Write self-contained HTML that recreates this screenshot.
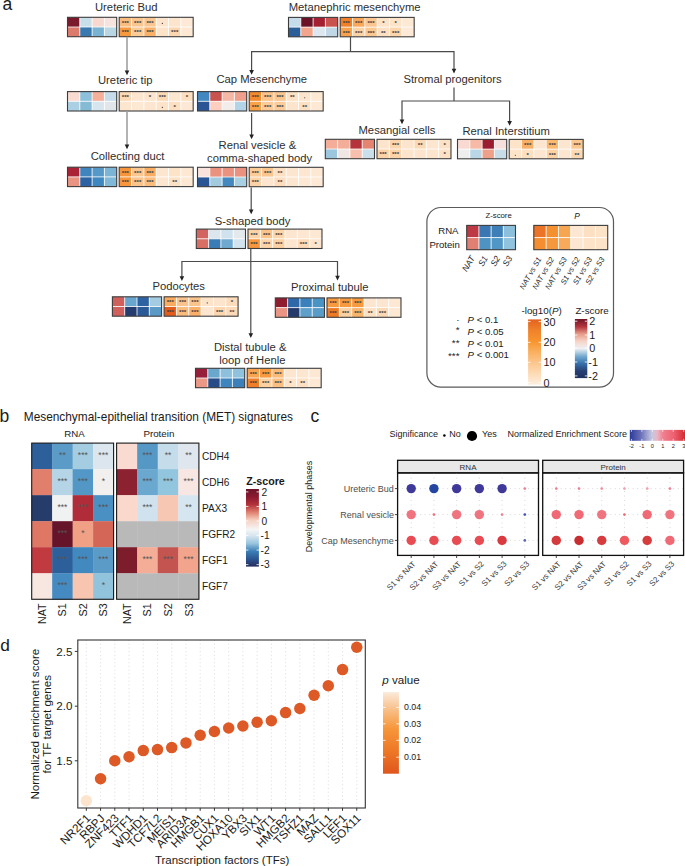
<!DOCTYPE html>
<html><head><meta charset="utf-8"><style>
html,body{margin:0;padding:0;background:#fff;width:685px;height:866px;overflow:hidden;}
svg{display:block;}
text{font-family:"Liberation Sans", sans-serif;}
</style></head><body>
<svg width="685" height="866" viewBox="0 0 685 866" font-family='"Liberation Sans", sans-serif'>
<rect width="685" height="866" fill="#fff"/>
<text x="2.5" y="9.8" font-size="17.5" text-anchor="start" fill="#1a1a1a">a</text>
<rect x="67.50" y="17.30" width="12.30" height="9.70" fill="#7b1a2c"/>
<rect x="79.80" y="17.30" width="12.30" height="9.70" fill="#c8dfea"/>
<rect x="92.10" y="17.30" width="12.30" height="9.70" fill="#f8d9d0"/>
<rect x="104.40" y="17.30" width="12.30" height="9.70" fill="#f6e3de"/>
<rect x="67.50" y="27.00" width="12.30" height="9.70" fill="#dc7b6c"/>
<rect x="79.80" y="27.00" width="12.30" height="9.70" fill="#3a78b0"/>
<rect x="92.10" y="27.00" width="12.30" height="9.70" fill="#7ab3d2"/>
<rect x="104.40" y="27.00" width="12.30" height="9.70" fill="#b9d6e5"/>
<rect x="119.20" y="17.30" width="12.33" height="9.70" fill="#fbbd7f"/>
<rect x="131.53" y="17.30" width="12.33" height="9.70" fill="#fbc58f"/>
<rect x="143.86" y="17.30" width="12.33" height="9.70" fill="#fbc58f"/>
<rect x="156.19" y="17.30" width="12.33" height="9.70" fill="#fde5cd"/>
<rect x="168.52" y="17.30" width="12.33" height="9.70" fill="#fde5cd"/>
<rect x="180.85" y="17.30" width="12.33" height="9.70" fill="#fde9d6"/>
<rect x="119.20" y="27.00" width="12.33" height="9.70" fill="#f79a3f"/>
<rect x="131.53" y="27.00" width="12.33" height="9.70" fill="#fbcb98"/>
<rect x="143.86" y="27.00" width="12.33" height="9.70" fill="#f9b068"/>
<rect x="156.19" y="27.00" width="12.33" height="9.70" fill="#fde3c8"/>
<rect x="168.52" y="27.00" width="12.33" height="9.70" fill="#fcd6b0"/>
<rect x="180.85" y="27.00" width="12.33" height="9.70" fill="#fde8d4"/>
<line x1="79.8" y1="17.3" x2="79.8" y2="36.7" stroke="#fff" stroke-width="0.8"/>
<line x1="92.1" y1="17.3" x2="92.1" y2="36.7" stroke="#fff" stroke-width="0.8"/>
<line x1="104.4" y1="17.3" x2="104.4" y2="36.7" stroke="#fff" stroke-width="0.8"/>
<line x1="131.53" y1="17.3" x2="131.53" y2="36.7" stroke="#fff" stroke-width="0.8"/>
<line x1="143.86" y1="17.3" x2="143.86" y2="36.7" stroke="#fff" stroke-width="0.8"/>
<line x1="156.19" y1="17.3" x2="156.19" y2="36.7" stroke="#fff" stroke-width="0.8"/>
<line x1="168.52" y1="17.3" x2="168.52" y2="36.7" stroke="#fff" stroke-width="0.8"/>
<line x1="180.85" y1="17.3" x2="180.85" y2="36.7" stroke="#fff" stroke-width="0.8"/>
<line x1="67.5" y1="27.0" x2="116.7" y2="27.0" stroke="#fff" stroke-width="0.8"/>
<line x1="119.2" y1="27.0" x2="193.18" y2="27.0" stroke="#fff" stroke-width="0.8"/>
<text x="125.37" y="24.75" font-size="6.2" text-anchor="middle" fill="#3a3a3a" font-weight="bold">***</text>
<text x="137.69" y="24.75" font-size="6.2" text-anchor="middle" fill="#3a3a3a" font-weight="bold">***</text>
<text x="150.03" y="24.75" font-size="6.2" text-anchor="middle" fill="#3a3a3a" font-weight="bold">***</text>
<circle cx="162.35" cy="23.45" r="0.6" fill="#3a3a3a"/>
<text x="125.37" y="34.45" font-size="6.2" text-anchor="middle" fill="#3a3a3a" font-weight="bold">***</text>
<text x="137.69" y="34.45" font-size="6.2" text-anchor="middle" fill="#3a3a3a" font-weight="bold">***</text>
<text x="150.03" y="34.45" font-size="6.2" text-anchor="middle" fill="#3a3a3a" font-weight="bold">***</text>
<text x="174.69" y="34.45" font-size="6.2" text-anchor="middle" fill="#3a3a3a" font-weight="bold">***</text>
<rect x="67.50" y="17.30" width="49.20" height="19.40" fill="none" stroke="#3c3c3c" stroke-width="1.1"/>
<rect x="119.20" y="17.30" width="73.98" height="19.40" fill="none" stroke="#3c3c3c" stroke-width="1.1"/>
<rect x="288.50" y="17.40" width="12.30" height="9.70" fill="#c5dceb"/>
<rect x="300.80" y="17.40" width="12.30" height="9.70" fill="#6a1128"/>
<rect x="313.10" y="17.40" width="12.30" height="9.70" fill="#a51f33"/>
<rect x="325.40" y="17.40" width="12.30" height="9.70" fill="#c8534f"/>
<rect x="288.50" y="27.10" width="12.30" height="9.70" fill="#2b5f9a"/>
<rect x="300.80" y="27.10" width="12.30" height="9.70" fill="#f2a48c"/>
<rect x="313.10" y="27.10" width="12.30" height="9.70" fill="#dde7ef"/>
<rect x="325.40" y="27.10" width="12.30" height="9.70" fill="#c0d8e6"/>
<rect x="340.20" y="17.40" width="12.33" height="9.70" fill="#f07f2a"/>
<rect x="352.53" y="17.40" width="12.33" height="9.70" fill="#faa75a"/>
<rect x="364.86" y="17.40" width="12.33" height="9.70" fill="#fbc591"/>
<rect x="377.19" y="17.40" width="12.33" height="9.70" fill="#fde3c8"/>
<rect x="389.52" y="17.40" width="12.33" height="9.70" fill="#fde3c8"/>
<rect x="401.85" y="17.40" width="12.33" height="9.70" fill="#fde9d4"/>
<rect x="340.20" y="27.10" width="12.33" height="9.70" fill="#f9a24e"/>
<rect x="352.53" y="27.10" width="12.33" height="9.70" fill="#fcd3a6"/>
<rect x="364.86" y="27.10" width="12.33" height="9.70" fill="#fcc892"/>
<rect x="377.19" y="27.10" width="12.33" height="9.70" fill="#fde0c2"/>
<rect x="389.52" y="27.10" width="12.33" height="9.70" fill="#fcd5ab"/>
<rect x="401.85" y="27.10" width="12.33" height="9.70" fill="#fde9d6"/>
<line x1="300.8" y1="17.4" x2="300.8" y2="36.8" stroke="#fff" stroke-width="0.8"/>
<line x1="313.1" y1="17.4" x2="313.1" y2="36.8" stroke="#fff" stroke-width="0.8"/>
<line x1="325.4" y1="17.4" x2="325.4" y2="36.8" stroke="#fff" stroke-width="0.8"/>
<line x1="352.53" y1="17.4" x2="352.53" y2="36.8" stroke="#fff" stroke-width="0.8"/>
<line x1="364.86" y1="17.4" x2="364.86" y2="36.8" stroke="#fff" stroke-width="0.8"/>
<line x1="377.19" y1="17.4" x2="377.19" y2="36.8" stroke="#fff" stroke-width="0.8"/>
<line x1="389.52" y1="17.4" x2="389.52" y2="36.8" stroke="#fff" stroke-width="0.8"/>
<line x1="401.84999999999997" y1="17.4" x2="401.84999999999997" y2="36.8" stroke="#fff" stroke-width="0.8"/>
<line x1="288.5" y1="27.099999999999998" x2="337.7" y2="27.099999999999998" stroke="#fff" stroke-width="0.8"/>
<line x1="340.2" y1="27.099999999999998" x2="414.18" y2="27.099999999999998" stroke="#fff" stroke-width="0.8"/>
<text x="346.37" y="24.85" font-size="6.2" text-anchor="middle" fill="#3a3a3a" font-weight="bold">***</text>
<text x="358.69" y="24.85" font-size="6.2" text-anchor="middle" fill="#3a3a3a" font-weight="bold">***</text>
<text x="371.03" y="24.85" font-size="6.2" text-anchor="middle" fill="#3a3a3a" font-weight="bold">***</text>
<text x="383.36" y="24.85" font-size="6.2" text-anchor="middle" fill="#3a3a3a" font-weight="bold">*</text>
<text x="395.69" y="24.85" font-size="6.2" text-anchor="middle" fill="#3a3a3a" font-weight="bold">*</text>
<text x="346.37" y="34.55" font-size="6.2" text-anchor="middle" fill="#3a3a3a" font-weight="bold">***</text>
<text x="358.69" y="34.55" font-size="6.2" text-anchor="middle" fill="#3a3a3a" font-weight="bold">***</text>
<text x="371.03" y="34.55" font-size="6.2" text-anchor="middle" fill="#3a3a3a" font-weight="bold">***</text>
<text x="383.36" y="34.55" font-size="6.2" text-anchor="middle" fill="#3a3a3a" font-weight="bold">**</text>
<text x="395.69" y="34.55" font-size="6.2" text-anchor="middle" fill="#3a3a3a" font-weight="bold">***</text>
<rect x="288.50" y="17.40" width="49.20" height="19.40" fill="none" stroke="#3c3c3c" stroke-width="1.1"/>
<rect x="340.20" y="17.40" width="73.98" height="19.40" fill="none" stroke="#3c3c3c" stroke-width="1.1"/>
<rect x="67.50" y="91.60" width="12.30" height="9.70" fill="#f8dcd2"/>
<rect x="79.80" y="91.60" width="12.30" height="9.70" fill="#8dc0da"/>
<rect x="92.10" y="91.60" width="12.30" height="9.70" fill="#f5b09a"/>
<rect x="104.40" y="91.60" width="12.30" height="9.70" fill="#c6dcea"/>
<rect x="67.50" y="101.30" width="12.30" height="9.70" fill="#acd0e3"/>
<rect x="79.80" y="101.30" width="12.30" height="9.70" fill="#86bbd6"/>
<rect x="92.10" y="101.30" width="12.30" height="9.70" fill="#d6e5ee"/>
<rect x="104.40" y="101.30" width="12.30" height="9.70" fill="#e0e6ea"/>
<rect x="119.20" y="91.60" width="12.33" height="9.70" fill="#fcd9b5"/>
<rect x="131.53" y="91.60" width="12.33" height="9.70" fill="#fde6d0"/>
<rect x="143.86" y="91.60" width="12.33" height="9.70" fill="#fde4cc"/>
<rect x="156.19" y="91.60" width="12.33" height="9.70" fill="#fcd9b5"/>
<rect x="168.52" y="91.60" width="12.33" height="9.70" fill="#fde6d0"/>
<rect x="180.85" y="91.60" width="12.33" height="9.70" fill="#fcdfc0"/>
<rect x="119.20" y="101.30" width="12.33" height="9.70" fill="#fde6d0"/>
<rect x="131.53" y="101.30" width="12.33" height="9.70" fill="#fde8d4"/>
<rect x="143.86" y="101.30" width="12.33" height="9.70" fill="#fde6d0"/>
<rect x="156.19" y="101.30" width="12.33" height="9.70" fill="#fde3c8"/>
<rect x="168.52" y="101.30" width="12.33" height="9.70" fill="#fddfc2"/>
<rect x="180.85" y="101.30" width="12.33" height="9.70" fill="#fde8d6"/>
<line x1="79.8" y1="91.6" x2="79.8" y2="111.0" stroke="#fff" stroke-width="0.8"/>
<line x1="92.1" y1="91.6" x2="92.1" y2="111.0" stroke="#fff" stroke-width="0.8"/>
<line x1="104.4" y1="91.6" x2="104.4" y2="111.0" stroke="#fff" stroke-width="0.8"/>
<line x1="131.53" y1="91.6" x2="131.53" y2="111.0" stroke="#fff" stroke-width="0.8"/>
<line x1="143.86" y1="91.6" x2="143.86" y2="111.0" stroke="#fff" stroke-width="0.8"/>
<line x1="156.19" y1="91.6" x2="156.19" y2="111.0" stroke="#fff" stroke-width="0.8"/>
<line x1="168.52" y1="91.6" x2="168.52" y2="111.0" stroke="#fff" stroke-width="0.8"/>
<line x1="180.85" y1="91.6" x2="180.85" y2="111.0" stroke="#fff" stroke-width="0.8"/>
<line x1="67.5" y1="101.3" x2="116.7" y2="101.3" stroke="#fff" stroke-width="0.8"/>
<line x1="119.2" y1="101.3" x2="193.18" y2="101.3" stroke="#fff" stroke-width="0.8"/>
<text x="125.37" y="99.05" font-size="6.2" text-anchor="middle" fill="#3a3a3a" font-weight="bold">***</text>
<text x="150.03" y="99.05" font-size="6.2" text-anchor="middle" fill="#3a3a3a" font-weight="bold">*</text>
<text x="162.35" y="99.05" font-size="6.2" text-anchor="middle" fill="#3a3a3a" font-weight="bold">***</text>
<text x="187.01" y="99.05" font-size="6.2" text-anchor="middle" fill="#3a3a3a" font-weight="bold">*</text>
<circle cx="162.35" cy="107.45" r="0.6" fill="#3a3a3a"/>
<text x="174.69" y="108.75" font-size="6.2" text-anchor="middle" fill="#3a3a3a" font-weight="bold">*</text>
<rect x="67.50" y="91.60" width="49.20" height="19.40" fill="none" stroke="#3c3c3c" stroke-width="1.1"/>
<rect x="119.20" y="91.60" width="73.98" height="19.40" fill="none" stroke="#3c3c3c" stroke-width="1.1"/>
<rect x="197.50" y="91.60" width="12.30" height="9.70" fill="#4288c0"/>
<rect x="209.80" y="91.60" width="12.30" height="9.70" fill="#c8534f"/>
<rect x="222.10" y="91.60" width="12.30" height="9.70" fill="#f6b8a6"/>
<rect x="234.40" y="91.60" width="12.30" height="9.70" fill="#efa08c"/>
<rect x="197.50" y="101.30" width="12.30" height="9.70" fill="#2a5494"/>
<rect x="209.80" y="101.30" width="12.30" height="9.70" fill="#fccfc0"/>
<rect x="222.10" y="101.30" width="12.30" height="9.70" fill="#f2ecea"/>
<rect x="234.40" y="101.30" width="12.30" height="9.70" fill="#b3d3e6"/>
<rect x="249.20" y="91.60" width="12.33" height="9.70" fill="#f48a2e"/>
<rect x="261.53" y="91.60" width="12.33" height="9.70" fill="#fbc28a"/>
<rect x="273.86" y="91.60" width="12.33" height="9.70" fill="#fbc58f"/>
<rect x="286.19" y="91.60" width="12.33" height="9.70" fill="#fde1c5"/>
<rect x="298.52" y="91.60" width="12.33" height="9.70" fill="#fde4cc"/>
<rect x="310.85" y="91.60" width="12.33" height="9.70" fill="#fde8d4"/>
<rect x="249.20" y="101.30" width="12.33" height="9.70" fill="#f8a24a"/>
<rect x="261.53" y="101.30" width="12.33" height="9.70" fill="#fccb99"/>
<rect x="273.86" y="101.30" width="12.33" height="9.70" fill="#fccb99"/>
<rect x="286.19" y="101.30" width="12.33" height="9.70" fill="#fde5cd"/>
<rect x="298.52" y="101.30" width="12.33" height="9.70" fill="#fde0c2"/>
<rect x="310.85" y="101.30" width="12.33" height="9.70" fill="#fde8d4"/>
<line x1="209.8" y1="91.6" x2="209.8" y2="111.0" stroke="#fff" stroke-width="0.8"/>
<line x1="222.1" y1="91.6" x2="222.1" y2="111.0" stroke="#fff" stroke-width="0.8"/>
<line x1="234.4" y1="91.6" x2="234.4" y2="111.0" stroke="#fff" stroke-width="0.8"/>
<line x1="261.53" y1="91.6" x2="261.53" y2="111.0" stroke="#fff" stroke-width="0.8"/>
<line x1="273.86" y1="91.6" x2="273.86" y2="111.0" stroke="#fff" stroke-width="0.8"/>
<line x1="286.19" y1="91.6" x2="286.19" y2="111.0" stroke="#fff" stroke-width="0.8"/>
<line x1="298.52" y1="91.6" x2="298.52" y2="111.0" stroke="#fff" stroke-width="0.8"/>
<line x1="310.84999999999997" y1="91.6" x2="310.84999999999997" y2="111.0" stroke="#fff" stroke-width="0.8"/>
<line x1="197.5" y1="101.3" x2="246.7" y2="101.3" stroke="#fff" stroke-width="0.8"/>
<line x1="249.2" y1="101.3" x2="323.18" y2="101.3" stroke="#fff" stroke-width="0.8"/>
<text x="255.36" y="99.05" font-size="6.2" text-anchor="middle" fill="#3a3a3a" font-weight="bold">***</text>
<text x="267.69" y="99.05" font-size="6.2" text-anchor="middle" fill="#3a3a3a" font-weight="bold">***</text>
<text x="280.03" y="99.05" font-size="6.2" text-anchor="middle" fill="#3a3a3a" font-weight="bold">***</text>
<text x="292.36" y="99.05" font-size="6.2" text-anchor="middle" fill="#3a3a3a" font-weight="bold">**</text>
<circle cx="304.69" cy="97.75" r="0.6" fill="#3a3a3a"/>
<text x="255.36" y="108.75" font-size="6.2" text-anchor="middle" fill="#3a3a3a" font-weight="bold">***</text>
<text x="267.69" y="108.75" font-size="6.2" text-anchor="middle" fill="#3a3a3a" font-weight="bold">***</text>
<text x="280.03" y="108.75" font-size="6.2" text-anchor="middle" fill="#3a3a3a" font-weight="bold">***</text>
<text x="304.69" y="108.75" font-size="6.2" text-anchor="middle" fill="#3a3a3a" font-weight="bold">**</text>
<rect x="197.50" y="91.60" width="49.20" height="19.40" fill="none" stroke="#3c3c3c" stroke-width="1.1"/>
<rect x="249.20" y="91.60" width="73.98" height="19.40" fill="none" stroke="#3c3c3c" stroke-width="1.1"/>
<rect x="67.50" y="167.20" width="12.30" height="9.70" fill="#a92235"/>
<rect x="79.80" y="167.20" width="12.30" height="9.70" fill="#3f84bd"/>
<rect x="92.10" y="167.20" width="12.30" height="9.70" fill="#5698c8"/>
<rect x="104.40" y="167.20" width="12.30" height="9.70" fill="#7cb4d5"/>
<rect x="67.50" y="176.90" width="12.30" height="9.70" fill="#e99482"/>
<rect x="79.80" y="176.90" width="12.30" height="9.70" fill="#2e63a3"/>
<rect x="92.10" y="176.90" width="12.30" height="9.70" fill="#3f87bf"/>
<rect x="104.40" y="176.90" width="12.30" height="9.70" fill="#80b8d8"/>
<rect x="119.20" y="167.20" width="12.33" height="9.70" fill="#f7953a"/>
<rect x="131.53" y="167.20" width="12.33" height="9.70" fill="#fbc78f"/>
<rect x="143.86" y="167.20" width="12.33" height="9.70" fill="#f9ad62"/>
<rect x="156.19" y="167.20" width="12.33" height="9.70" fill="#fde6d0"/>
<rect x="168.52" y="167.20" width="12.33" height="9.70" fill="#fde3c8"/>
<rect x="180.85" y="167.20" width="12.33" height="9.70" fill="#fde8d4"/>
<rect x="119.20" y="176.90" width="12.33" height="9.70" fill="#f7963c"/>
<rect x="131.53" y="176.90" width="12.33" height="9.70" fill="#fbc48c"/>
<rect x="143.86" y="176.90" width="12.33" height="9.70" fill="#fbbd7e"/>
<rect x="156.19" y="176.90" width="12.33" height="9.70" fill="#fde6d0"/>
<rect x="168.52" y="176.90" width="12.33" height="9.70" fill="#fde1c5"/>
<rect x="180.85" y="176.90" width="12.33" height="9.70" fill="#fde8d4"/>
<line x1="79.8" y1="167.2" x2="79.8" y2="186.6" stroke="#fff" stroke-width="0.8"/>
<line x1="92.1" y1="167.2" x2="92.1" y2="186.6" stroke="#fff" stroke-width="0.8"/>
<line x1="104.4" y1="167.2" x2="104.4" y2="186.6" stroke="#fff" stroke-width="0.8"/>
<line x1="131.53" y1="167.2" x2="131.53" y2="186.6" stroke="#fff" stroke-width="0.8"/>
<line x1="143.86" y1="167.2" x2="143.86" y2="186.6" stroke="#fff" stroke-width="0.8"/>
<line x1="156.19" y1="167.2" x2="156.19" y2="186.6" stroke="#fff" stroke-width="0.8"/>
<line x1="168.52" y1="167.2" x2="168.52" y2="186.6" stroke="#fff" stroke-width="0.8"/>
<line x1="180.85" y1="167.2" x2="180.85" y2="186.6" stroke="#fff" stroke-width="0.8"/>
<line x1="67.5" y1="176.89999999999998" x2="116.7" y2="176.89999999999998" stroke="#fff" stroke-width="0.8"/>
<line x1="119.2" y1="176.89999999999998" x2="193.18" y2="176.89999999999998" stroke="#fff" stroke-width="0.8"/>
<text x="125.37" y="174.65" font-size="6.2" text-anchor="middle" fill="#3a3a3a" font-weight="bold">***</text>
<text x="137.69" y="174.65" font-size="6.2" text-anchor="middle" fill="#3a3a3a" font-weight="bold">***</text>
<text x="150.03" y="174.65" font-size="6.2" text-anchor="middle" fill="#3a3a3a" font-weight="bold">***</text>
<text x="125.37" y="184.35" font-size="6.2" text-anchor="middle" fill="#3a3a3a" font-weight="bold">***</text>
<text x="137.69" y="184.35" font-size="6.2" text-anchor="middle" fill="#3a3a3a" font-weight="bold">***</text>
<text x="150.03" y="184.35" font-size="6.2" text-anchor="middle" fill="#3a3a3a" font-weight="bold">***</text>
<text x="174.69" y="184.35" font-size="6.2" text-anchor="middle" fill="#3a3a3a" font-weight="bold">**</text>
<rect x="67.50" y="167.20" width="49.20" height="19.40" fill="none" stroke="#3c3c3c" stroke-width="1.1"/>
<rect x="119.20" y="167.20" width="73.98" height="19.40" fill="none" stroke="#3c3c3c" stroke-width="1.1"/>
<rect x="197.50" y="167.30" width="12.30" height="9.70" fill="#f8e2dc"/>
<rect x="209.80" y="167.30" width="12.30" height="9.70" fill="#ea9180"/>
<rect x="222.10" y="167.30" width="12.30" height="9.70" fill="#ea9180"/>
<rect x="234.40" y="167.30" width="12.30" height="9.70" fill="#ea9180"/>
<rect x="197.50" y="177.00" width="12.30" height="9.70" fill="#2a5594"/>
<rect x="209.80" y="177.00" width="12.30" height="9.70" fill="#a2cbe0"/>
<rect x="222.10" y="177.00" width="12.30" height="9.70" fill="#4389c0"/>
<rect x="234.40" y="177.00" width="12.30" height="9.70" fill="#a8cfe2"/>
<rect x="249.20" y="167.30" width="12.33" height="9.70" fill="#fbcb98"/>
<rect x="261.53" y="167.30" width="12.33" height="9.70" fill="#fbc68e"/>
<rect x="273.86" y="167.30" width="12.33" height="9.70" fill="#fde0c2"/>
<rect x="286.19" y="167.30" width="12.33" height="9.70" fill="#fde6d0"/>
<rect x="298.52" y="167.30" width="12.33" height="9.70" fill="#fde7d2"/>
<rect x="310.85" y="167.30" width="12.33" height="9.70" fill="#fde8d4"/>
<rect x="249.20" y="177.00" width="12.33" height="9.70" fill="#fcd3a8"/>
<rect x="261.53" y="177.00" width="12.33" height="9.70" fill="#fde6d0"/>
<rect x="273.86" y="177.00" width="12.33" height="9.70" fill="#fdddbd"/>
<rect x="286.19" y="177.00" width="12.33" height="9.70" fill="#fde6d0"/>
<rect x="298.52" y="177.00" width="12.33" height="9.70" fill="#fde8d4"/>
<rect x="310.85" y="177.00" width="12.33" height="9.70" fill="#fde9d6"/>
<line x1="209.8" y1="167.3" x2="209.8" y2="186.70000000000002" stroke="#fff" stroke-width="0.8"/>
<line x1="222.1" y1="167.3" x2="222.1" y2="186.70000000000002" stroke="#fff" stroke-width="0.8"/>
<line x1="234.4" y1="167.3" x2="234.4" y2="186.70000000000002" stroke="#fff" stroke-width="0.8"/>
<line x1="261.53" y1="167.3" x2="261.53" y2="186.70000000000002" stroke="#fff" stroke-width="0.8"/>
<line x1="273.86" y1="167.3" x2="273.86" y2="186.70000000000002" stroke="#fff" stroke-width="0.8"/>
<line x1="286.19" y1="167.3" x2="286.19" y2="186.70000000000002" stroke="#fff" stroke-width="0.8"/>
<line x1="298.52" y1="167.3" x2="298.52" y2="186.70000000000002" stroke="#fff" stroke-width="0.8"/>
<line x1="310.84999999999997" y1="167.3" x2="310.84999999999997" y2="186.70000000000002" stroke="#fff" stroke-width="0.8"/>
<line x1="197.5" y1="177.0" x2="246.7" y2="177.0" stroke="#fff" stroke-width="0.8"/>
<line x1="249.2" y1="177.0" x2="323.18" y2="177.0" stroke="#fff" stroke-width="0.8"/>
<text x="255.36" y="174.75" font-size="6.2" text-anchor="middle" fill="#3a3a3a" font-weight="bold">***</text>
<text x="267.69" y="174.75" font-size="6.2" text-anchor="middle" fill="#3a3a3a" font-weight="bold">***</text>
<text x="280.03" y="174.75" font-size="6.2" text-anchor="middle" fill="#3a3a3a" font-weight="bold">**</text>
<text x="255.36" y="184.45" font-size="6.2" text-anchor="middle" fill="#3a3a3a" font-weight="bold">***</text>
<text x="280.03" y="184.45" font-size="6.2" text-anchor="middle" fill="#3a3a3a" font-weight="bold">**</text>
<rect x="197.50" y="167.30" width="49.20" height="19.40" fill="none" stroke="#3c3c3c" stroke-width="1.1"/>
<rect x="249.20" y="167.30" width="73.98" height="19.40" fill="none" stroke="#3c3c3c" stroke-width="1.1"/>
<rect x="325.30" y="139.30" width="12.30" height="9.70" fill="#f3ad99"/>
<rect x="337.60" y="139.30" width="12.30" height="9.70" fill="#f3ad99"/>
<rect x="349.90" y="139.30" width="12.30" height="9.70" fill="#b5333b"/>
<rect x="362.20" y="139.30" width="12.30" height="9.70" fill="#e58470"/>
<rect x="325.30" y="149.00" width="12.30" height="9.70" fill="#9bc6de"/>
<rect x="337.60" y="149.00" width="12.30" height="9.70" fill="#f0e6e4"/>
<rect x="349.90" y="149.00" width="12.30" height="9.70" fill="#f7c0ae"/>
<rect x="362.20" y="149.00" width="12.30" height="9.70" fill="#cbdfeb"/>
<rect x="377.00" y="139.30" width="12.33" height="9.70" fill="#fde5cd"/>
<rect x="389.33" y="139.30" width="12.33" height="9.70" fill="#fcd5ad"/>
<rect x="401.66" y="139.30" width="12.33" height="9.70" fill="#fde5cd"/>
<rect x="413.99" y="139.30" width="12.33" height="9.70" fill="#fcd9b5"/>
<rect x="426.32" y="139.30" width="12.33" height="9.70" fill="#fde6d0"/>
<rect x="438.65" y="139.30" width="12.33" height="9.70" fill="#fde1c5"/>
<rect x="377.00" y="149.00" width="12.33" height="9.70" fill="#fcd3a8"/>
<rect x="389.33" y="149.00" width="12.33" height="9.70" fill="#fcd3a8"/>
<rect x="401.66" y="149.00" width="12.33" height="9.70" fill="#fde5cd"/>
<rect x="413.99" y="149.00" width="12.33" height="9.70" fill="#fde5cd"/>
<rect x="426.32" y="149.00" width="12.33" height="9.70" fill="#fde5cd"/>
<rect x="438.65" y="149.00" width="12.33" height="9.70" fill="#fde1c5"/>
<line x1="337.6" y1="139.3" x2="337.6" y2="158.70000000000002" stroke="#fff" stroke-width="0.8"/>
<line x1="349.90000000000003" y1="139.3" x2="349.90000000000003" y2="158.70000000000002" stroke="#fff" stroke-width="0.8"/>
<line x1="362.20000000000005" y1="139.3" x2="362.20000000000005" y2="158.70000000000002" stroke="#fff" stroke-width="0.8"/>
<line x1="389.33" y1="139.3" x2="389.33" y2="158.70000000000002" stroke="#fff" stroke-width="0.8"/>
<line x1="401.66" y1="139.3" x2="401.66" y2="158.70000000000002" stroke="#fff" stroke-width="0.8"/>
<line x1="413.99" y1="139.3" x2="413.99" y2="158.70000000000002" stroke="#fff" stroke-width="0.8"/>
<line x1="426.32" y1="139.3" x2="426.32" y2="158.70000000000002" stroke="#fff" stroke-width="0.8"/>
<line x1="438.65" y1="139.3" x2="438.65" y2="158.70000000000002" stroke="#fff" stroke-width="0.8"/>
<line x1="325.3" y1="149.0" x2="374.5" y2="149.0" stroke="#fff" stroke-width="0.8"/>
<line x1="377.0" y1="149.0" x2="450.98" y2="149.0" stroke="#fff" stroke-width="0.8"/>
<text x="395.50" y="146.75" font-size="6.2" text-anchor="middle" fill="#3a3a3a" font-weight="bold">***</text>
<text x="420.16" y="146.75" font-size="6.2" text-anchor="middle" fill="#3a3a3a" font-weight="bold">**</text>
<text x="444.81" y="146.75" font-size="6.2" text-anchor="middle" fill="#3a3a3a" font-weight="bold">*</text>
<text x="383.17" y="156.45" font-size="6.2" text-anchor="middle" fill="#3a3a3a" font-weight="bold">***</text>
<text x="395.50" y="156.45" font-size="6.2" text-anchor="middle" fill="#3a3a3a" font-weight="bold">***</text>
<text x="444.81" y="156.45" font-size="6.2" text-anchor="middle" fill="#3a3a3a" font-weight="bold">*</text>
<rect x="325.30" y="139.30" width="49.20" height="19.40" fill="none" stroke="#3c3c3c" stroke-width="1.1"/>
<rect x="377.00" y="139.30" width="73.98" height="19.40" fill="none" stroke="#3c3c3c" stroke-width="1.1"/>
<rect x="457.50" y="139.40" width="12.30" height="9.70" fill="#f8dad2"/>
<rect x="469.80" y="139.40" width="12.30" height="9.70" fill="#f6baa6"/>
<rect x="482.10" y="139.40" width="12.30" height="9.70" fill="#9b1d30"/>
<rect x="494.40" y="139.40" width="12.30" height="9.70" fill="#f5e0dc"/>
<rect x="457.50" y="149.10" width="12.30" height="9.70" fill="#efeeee"/>
<rect x="469.80" y="149.10" width="12.30" height="9.70" fill="#bad7e6"/>
<rect x="482.10" y="149.10" width="12.30" height="9.70" fill="#eea08a"/>
<rect x="494.40" y="149.10" width="12.30" height="9.70" fill="#c9dde9"/>
<rect x="509.20" y="139.40" width="12.33" height="9.70" fill="#fde3c8"/>
<rect x="521.53" y="139.40" width="12.33" height="9.70" fill="#f9b066"/>
<rect x="533.86" y="139.40" width="12.33" height="9.70" fill="#fde6d0"/>
<rect x="546.19" y="139.40" width="12.33" height="9.70" fill="#fbb86f"/>
<rect x="558.52" y="139.40" width="12.33" height="9.70" fill="#fde6d0"/>
<rect x="570.85" y="139.40" width="12.33" height="9.70" fill="#fbc78e"/>
<rect x="509.20" y="149.10" width="12.33" height="9.70" fill="#fde3c8"/>
<rect x="521.53" y="149.10" width="12.33" height="9.70" fill="#fde0c2"/>
<rect x="533.86" y="149.10" width="12.33" height="9.70" fill="#fde6d0"/>
<rect x="546.19" y="149.10" width="12.33" height="9.70" fill="#fcd3a5"/>
<rect x="558.52" y="149.10" width="12.33" height="9.70" fill="#fde6d0"/>
<rect x="570.85" y="149.10" width="12.33" height="9.70" fill="#fcd9b2"/>
<line x1="469.8" y1="139.4" x2="469.8" y2="158.8" stroke="#fff" stroke-width="0.8"/>
<line x1="482.1" y1="139.4" x2="482.1" y2="158.8" stroke="#fff" stroke-width="0.8"/>
<line x1="494.4" y1="139.4" x2="494.4" y2="158.8" stroke="#fff" stroke-width="0.8"/>
<line x1="521.53" y1="139.4" x2="521.53" y2="158.8" stroke="#fff" stroke-width="0.8"/>
<line x1="533.86" y1="139.4" x2="533.86" y2="158.8" stroke="#fff" stroke-width="0.8"/>
<line x1="546.1899999999999" y1="139.4" x2="546.1899999999999" y2="158.8" stroke="#fff" stroke-width="0.8"/>
<line x1="558.52" y1="139.4" x2="558.52" y2="158.8" stroke="#fff" stroke-width="0.8"/>
<line x1="570.85" y1="139.4" x2="570.85" y2="158.8" stroke="#fff" stroke-width="0.8"/>
<line x1="457.5" y1="149.1" x2="506.7" y2="149.1" stroke="#fff" stroke-width="0.8"/>
<line x1="509.2" y1="149.1" x2="583.18" y2="149.1" stroke="#fff" stroke-width="0.8"/>
<text x="527.69" y="146.85" font-size="6.2" text-anchor="middle" fill="#3a3a3a" font-weight="bold">***</text>
<text x="552.35" y="146.85" font-size="6.2" text-anchor="middle" fill="#3a3a3a" font-weight="bold">***</text>
<text x="577.01" y="146.85" font-size="6.2" text-anchor="middle" fill="#3a3a3a" font-weight="bold">***</text>
<circle cx="515.37" cy="155.25" r="0.6" fill="#3a3a3a"/>
<text x="527.69" y="156.55" font-size="6.2" text-anchor="middle" fill="#3a3a3a" font-weight="bold">*</text>
<text x="552.35" y="156.55" font-size="6.2" text-anchor="middle" fill="#3a3a3a" font-weight="bold">***</text>
<text x="577.01" y="156.55" font-size="6.2" text-anchor="middle" fill="#3a3a3a" font-weight="bold">**</text>
<rect x="457.50" y="139.40" width="49.20" height="19.40" fill="none" stroke="#3c3c3c" stroke-width="1.1"/>
<rect x="509.20" y="139.40" width="73.98" height="19.40" fill="none" stroke="#3c3c3c" stroke-width="1.1"/>
<rect x="196.30" y="229.10" width="12.30" height="9.70" fill="#d36560"/>
<rect x="208.60" y="229.10" width="12.30" height="9.70" fill="#dbe6ee"/>
<rect x="220.90" y="229.10" width="12.30" height="9.70" fill="#d0e2ed"/>
<rect x="233.20" y="229.10" width="12.30" height="9.70" fill="#e3e9ed"/>
<rect x="196.30" y="238.80" width="12.30" height="9.70" fill="#d86e64"/>
<rect x="208.60" y="238.80" width="12.30" height="9.70" fill="#3a7db6"/>
<rect x="220.90" y="238.80" width="12.30" height="9.70" fill="#6fa9cf"/>
<rect x="233.20" y="238.80" width="12.30" height="9.70" fill="#d3e3ed"/>
<rect x="248.00" y="229.10" width="12.33" height="9.70" fill="#fcd3a6"/>
<rect x="260.33" y="229.10" width="12.33" height="9.70" fill="#fbc48b"/>
<rect x="272.66" y="229.10" width="12.33" height="9.70" fill="#fcd5ab"/>
<rect x="284.99" y="229.10" width="12.33" height="9.70" fill="#fde6d0"/>
<rect x="297.32" y="229.10" width="12.33" height="9.70" fill="#fde7d2"/>
<rect x="309.65" y="229.10" width="12.33" height="9.70" fill="#fde8d4"/>
<rect x="248.00" y="238.80" width="12.33" height="9.70" fill="#f7963c"/>
<rect x="260.33" y="238.80" width="12.33" height="9.70" fill="#fcd4a8"/>
<rect x="272.66" y="238.80" width="12.33" height="9.70" fill="#fcd0a2"/>
<rect x="284.99" y="238.80" width="12.33" height="9.70" fill="#fde6d0"/>
<rect x="297.32" y="238.80" width="12.33" height="9.70" fill="#fcdab8"/>
<rect x="309.65" y="238.80" width="12.33" height="9.70" fill="#fde5cd"/>
<line x1="208.60000000000002" y1="229.1" x2="208.60000000000002" y2="248.5" stroke="#fff" stroke-width="0.8"/>
<line x1="220.9" y1="229.1" x2="220.9" y2="248.5" stroke="#fff" stroke-width="0.8"/>
<line x1="233.20000000000002" y1="229.1" x2="233.20000000000002" y2="248.5" stroke="#fff" stroke-width="0.8"/>
<line x1="260.33" y1="229.1" x2="260.33" y2="248.5" stroke="#fff" stroke-width="0.8"/>
<line x1="272.66" y1="229.1" x2="272.66" y2="248.5" stroke="#fff" stroke-width="0.8"/>
<line x1="284.99" y1="229.1" x2="284.99" y2="248.5" stroke="#fff" stroke-width="0.8"/>
<line x1="297.32" y1="229.1" x2="297.32" y2="248.5" stroke="#fff" stroke-width="0.8"/>
<line x1="309.65" y1="229.1" x2="309.65" y2="248.5" stroke="#fff" stroke-width="0.8"/>
<line x1="196.3" y1="238.79999999999998" x2="245.5" y2="238.79999999999998" stroke="#fff" stroke-width="0.8"/>
<line x1="248.0" y1="238.79999999999998" x2="321.98" y2="238.79999999999998" stroke="#fff" stroke-width="0.8"/>
<text x="254.16" y="236.55" font-size="6.2" text-anchor="middle" fill="#3a3a3a" font-weight="bold">***</text>
<text x="266.50" y="236.55" font-size="6.2" text-anchor="middle" fill="#3a3a3a" font-weight="bold">***</text>
<text x="278.83" y="236.55" font-size="6.2" text-anchor="middle" fill="#3a3a3a" font-weight="bold">***</text>
<text x="254.16" y="246.25" font-size="6.2" text-anchor="middle" fill="#3a3a3a" font-weight="bold">***</text>
<text x="266.50" y="246.25" font-size="6.2" text-anchor="middle" fill="#3a3a3a" font-weight="bold">***</text>
<text x="278.83" y="246.25" font-size="6.2" text-anchor="middle" fill="#3a3a3a" font-weight="bold">***</text>
<text x="303.49" y="246.25" font-size="6.2" text-anchor="middle" fill="#3a3a3a" font-weight="bold">***</text>
<text x="315.81" y="246.25" font-size="6.2" text-anchor="middle" fill="#3a3a3a" font-weight="bold">*</text>
<rect x="196.30" y="229.10" width="49.20" height="19.40" fill="none" stroke="#3c3c3c" stroke-width="1.1"/>
<rect x="248.00" y="229.10" width="73.98" height="19.40" fill="none" stroke="#3c3c3c" stroke-width="1.1"/>
<rect x="112.40" y="296.80" width="12.30" height="9.70" fill="#d0605c"/>
<rect x="124.70" y="296.80" width="12.30" height="9.70" fill="#69a6cd"/>
<rect x="137.00" y="296.80" width="12.30" height="9.70" fill="#2e63a3"/>
<rect x="149.30" y="296.80" width="12.30" height="9.70" fill="#a3cbe1"/>
<rect x="112.40" y="306.50" width="12.30" height="9.70" fill="#d0605c"/>
<rect x="124.70" y="306.50" width="12.30" height="9.70" fill="#243c6e"/>
<rect x="137.00" y="306.50" width="12.30" height="9.70" fill="#2a5a98"/>
<rect x="149.30" y="306.50" width="12.30" height="9.70" fill="#5b9ac7"/>
<rect x="164.10" y="296.80" width="12.33" height="9.70" fill="#f9ab5f"/>
<rect x="176.43" y="296.80" width="12.33" height="9.70" fill="#fbc48c"/>
<rect x="188.76" y="296.80" width="12.33" height="9.70" fill="#fbc48c"/>
<rect x="201.09" y="296.80" width="12.33" height="9.70" fill="#fde3c8"/>
<rect x="213.42" y="296.80" width="12.33" height="9.70" fill="#fde5cd"/>
<rect x="225.75" y="296.80" width="12.33" height="9.70" fill="#fddcbb"/>
<rect x="164.10" y="306.50" width="12.33" height="9.70" fill="#e25c1c"/>
<rect x="176.43" y="306.50" width="12.33" height="9.70" fill="#fbbd7e"/>
<rect x="188.76" y="306.50" width="12.33" height="9.70" fill="#fab06a"/>
<rect x="201.09" y="306.50" width="12.33" height="9.70" fill="#fde6d0"/>
<rect x="213.42" y="306.50" width="12.33" height="9.70" fill="#fcd6ae"/>
<rect x="225.75" y="306.50" width="12.33" height="9.70" fill="#fcdab8"/>
<line x1="124.7" y1="296.8" x2="124.7" y2="316.2" stroke="#fff" stroke-width="0.8"/>
<line x1="137.0" y1="296.8" x2="137.0" y2="316.2" stroke="#fff" stroke-width="0.8"/>
<line x1="149.3" y1="296.8" x2="149.3" y2="316.2" stroke="#fff" stroke-width="0.8"/>
<line x1="176.43000000000004" y1="296.8" x2="176.43000000000004" y2="316.2" stroke="#fff" stroke-width="0.8"/>
<line x1="188.76000000000002" y1="296.8" x2="188.76000000000002" y2="316.2" stroke="#fff" stroke-width="0.8"/>
<line x1="201.09000000000003" y1="296.8" x2="201.09000000000003" y2="316.2" stroke="#fff" stroke-width="0.8"/>
<line x1="213.42000000000002" y1="296.8" x2="213.42000000000002" y2="316.2" stroke="#fff" stroke-width="0.8"/>
<line x1="225.75000000000003" y1="296.8" x2="225.75000000000003" y2="316.2" stroke="#fff" stroke-width="0.8"/>
<line x1="112.4" y1="306.5" x2="161.60000000000002" y2="306.5" stroke="#fff" stroke-width="0.8"/>
<line x1="164.10000000000002" y1="306.5" x2="238.08000000000004" y2="306.5" stroke="#fff" stroke-width="0.8"/>
<text x="170.27" y="304.25" font-size="6.2" text-anchor="middle" fill="#3a3a3a" font-weight="bold">***</text>
<text x="182.60" y="304.25" font-size="6.2" text-anchor="middle" fill="#3a3a3a" font-weight="bold">***</text>
<text x="194.93" y="304.25" font-size="6.2" text-anchor="middle" fill="#3a3a3a" font-weight="bold">***</text>
<circle cx="207.26" cy="302.95" r="0.6" fill="#3a3a3a"/>
<text x="231.92" y="304.25" font-size="6.2" text-anchor="middle" fill="#3a3a3a" font-weight="bold">*</text>
<text x="170.27" y="313.95" font-size="6.2" text-anchor="middle" fill="#3a3a3a" font-weight="bold">***</text>
<text x="182.60" y="313.95" font-size="6.2" text-anchor="middle" fill="#3a3a3a" font-weight="bold">***</text>
<text x="194.93" y="313.95" font-size="6.2" text-anchor="middle" fill="#3a3a3a" font-weight="bold">***</text>
<text x="219.59" y="313.95" font-size="6.2" text-anchor="middle" fill="#3a3a3a" font-weight="bold">***</text>
<text x="231.92" y="313.95" font-size="6.2" text-anchor="middle" fill="#3a3a3a" font-weight="bold">**</text>
<rect x="112.40" y="296.80" width="49.20" height="19.40" fill="none" stroke="#3c3c3c" stroke-width="1.1"/>
<rect x="164.10" y="296.80" width="73.98" height="19.40" fill="none" stroke="#3c3c3c" stroke-width="1.1"/>
<rect x="275.30" y="297.90" width="12.30" height="9.70" fill="#8f1d30"/>
<rect x="287.60" y="297.90" width="12.30" height="9.70" fill="#2f68a8"/>
<rect x="299.90" y="297.90" width="12.30" height="9.70" fill="#3a80bb"/>
<rect x="312.20" y="297.90" width="12.30" height="9.70" fill="#4993c5"/>
<rect x="275.30" y="307.60" width="12.30" height="9.70" fill="#ea9484"/>
<rect x="287.60" y="307.60" width="12.30" height="9.70" fill="#243a6a"/>
<rect x="299.90" y="307.60" width="12.30" height="9.70" fill="#5ea0ca"/>
<rect x="312.20" y="307.60" width="12.30" height="9.70" fill="#5a9cc8"/>
<rect x="327.00" y="297.90" width="12.33" height="9.70" fill="#f79a3f"/>
<rect x="339.33" y="297.90" width="12.33" height="9.70" fill="#f79a3f"/>
<rect x="351.66" y="297.90" width="12.33" height="9.70" fill="#f79a3f"/>
<rect x="363.99" y="297.90" width="12.33" height="9.70" fill="#fde6d0"/>
<rect x="376.32" y="297.90" width="12.33" height="9.70" fill="#fde6d0"/>
<rect x="388.65" y="297.90" width="12.33" height="9.70" fill="#fde8d4"/>
<rect x="327.00" y="307.60" width="12.33" height="9.70" fill="#ee7a24"/>
<rect x="339.33" y="307.60" width="12.33" height="9.70" fill="#fcd0a0"/>
<rect x="351.66" y="307.60" width="12.33" height="9.70" fill="#fab56c"/>
<rect x="363.99" y="307.60" width="12.33" height="9.70" fill="#fde1c5"/>
<rect x="376.32" y="307.60" width="12.33" height="9.70" fill="#fcd9b5"/>
<rect x="388.65" y="307.60" width="12.33" height="9.70" fill="#fde8d4"/>
<line x1="287.6" y1="297.9" x2="287.6" y2="317.29999999999995" stroke="#fff" stroke-width="0.8"/>
<line x1="299.90000000000003" y1="297.9" x2="299.90000000000003" y2="317.29999999999995" stroke="#fff" stroke-width="0.8"/>
<line x1="312.20000000000005" y1="297.9" x2="312.20000000000005" y2="317.29999999999995" stroke="#fff" stroke-width="0.8"/>
<line x1="339.33" y1="297.9" x2="339.33" y2="317.29999999999995" stroke="#fff" stroke-width="0.8"/>
<line x1="351.66" y1="297.9" x2="351.66" y2="317.29999999999995" stroke="#fff" stroke-width="0.8"/>
<line x1="363.99" y1="297.9" x2="363.99" y2="317.29999999999995" stroke="#fff" stroke-width="0.8"/>
<line x1="376.32" y1="297.9" x2="376.32" y2="317.29999999999995" stroke="#fff" stroke-width="0.8"/>
<line x1="388.65" y1="297.9" x2="388.65" y2="317.29999999999995" stroke="#fff" stroke-width="0.8"/>
<line x1="275.3" y1="307.59999999999997" x2="324.5" y2="307.59999999999997" stroke="#fff" stroke-width="0.8"/>
<line x1="327.0" y1="307.59999999999997" x2="400.98" y2="307.59999999999997" stroke="#fff" stroke-width="0.8"/>
<text x="333.17" y="305.35" font-size="6.2" text-anchor="middle" fill="#3a3a3a" font-weight="bold">***</text>
<text x="345.50" y="305.35" font-size="6.2" text-anchor="middle" fill="#3a3a3a" font-weight="bold">***</text>
<text x="357.83" y="305.35" font-size="6.2" text-anchor="middle" fill="#3a3a3a" font-weight="bold">***</text>
<text x="333.17" y="315.05" font-size="6.2" text-anchor="middle" fill="#3a3a3a" font-weight="bold">***</text>
<text x="345.50" y="315.05" font-size="6.2" text-anchor="middle" fill="#3a3a3a" font-weight="bold">***</text>
<text x="357.83" y="315.05" font-size="6.2" text-anchor="middle" fill="#3a3a3a" font-weight="bold">***</text>
<text x="370.16" y="315.05" font-size="6.2" text-anchor="middle" fill="#3a3a3a" font-weight="bold">**</text>
<text x="382.49" y="315.05" font-size="6.2" text-anchor="middle" fill="#3a3a3a" font-weight="bold">***</text>
<rect x="275.30" y="297.90" width="49.20" height="19.40" fill="none" stroke="#3c3c3c" stroke-width="1.1"/>
<rect x="327.00" y="297.90" width="73.98" height="19.40" fill="none" stroke="#3c3c3c" stroke-width="1.1"/>
<rect x="195.50" y="368.30" width="12.30" height="9.70" fill="#96203a"/>
<rect x="207.80" y="368.30" width="12.30" height="9.70" fill="#6aa7cd"/>
<rect x="220.10" y="368.30" width="12.30" height="9.70" fill="#8cc0dc"/>
<rect x="232.40" y="368.30" width="12.30" height="9.70" fill="#8fc2dc"/>
<rect x="195.50" y="378.00" width="12.30" height="9.70" fill="#eb9887"/>
<rect x="207.80" y="378.00" width="12.30" height="9.70" fill="#274b86"/>
<rect x="220.10" y="378.00" width="12.30" height="9.70" fill="#3f85bd"/>
<rect x="232.40" y="378.00" width="12.30" height="9.70" fill="#3b80ba"/>
<rect x="247.20" y="368.30" width="12.33" height="9.70" fill="#f9a450"/>
<rect x="259.53" y="368.30" width="12.33" height="9.70" fill="#f79a3f"/>
<rect x="271.86" y="368.30" width="12.33" height="9.70" fill="#fbba78"/>
<rect x="284.19" y="368.30" width="12.33" height="9.70" fill="#fde6d0"/>
<rect x="296.52" y="368.30" width="12.33" height="9.70" fill="#fde6d0"/>
<rect x="308.85" y="368.30" width="12.33" height="9.70" fill="#fde8d4"/>
<rect x="247.20" y="378.00" width="12.33" height="9.70" fill="#ef7e28"/>
<rect x="259.53" y="378.00" width="12.33" height="9.70" fill="#fcd0a0"/>
<rect x="271.86" y="378.00" width="12.33" height="9.70" fill="#fbbf81"/>
<rect x="284.19" y="378.00" width="12.33" height="9.70" fill="#fde3c8"/>
<rect x="296.52" y="378.00" width="12.33" height="9.70" fill="#fddfc2"/>
<rect x="308.85" y="378.00" width="12.33" height="9.70" fill="#fde8d4"/>
<line x1="207.8" y1="368.3" x2="207.8" y2="387.7" stroke="#fff" stroke-width="0.8"/>
<line x1="220.1" y1="368.3" x2="220.1" y2="387.7" stroke="#fff" stroke-width="0.8"/>
<line x1="232.4" y1="368.3" x2="232.4" y2="387.7" stroke="#fff" stroke-width="0.8"/>
<line x1="259.53" y1="368.3" x2="259.53" y2="387.7" stroke="#fff" stroke-width="0.8"/>
<line x1="271.86" y1="368.3" x2="271.86" y2="387.7" stroke="#fff" stroke-width="0.8"/>
<line x1="284.19" y1="368.3" x2="284.19" y2="387.7" stroke="#fff" stroke-width="0.8"/>
<line x1="296.52" y1="368.3" x2="296.52" y2="387.7" stroke="#fff" stroke-width="0.8"/>
<line x1="308.84999999999997" y1="368.3" x2="308.84999999999997" y2="387.7" stroke="#fff" stroke-width="0.8"/>
<line x1="195.5" y1="378.0" x2="244.7" y2="378.0" stroke="#fff" stroke-width="0.8"/>
<line x1="247.2" y1="378.0" x2="321.18" y2="378.0" stroke="#fff" stroke-width="0.8"/>
<text x="253.36" y="375.75" font-size="6.2" text-anchor="middle" fill="#3a3a3a" font-weight="bold">***</text>
<text x="265.69" y="375.75" font-size="6.2" text-anchor="middle" fill="#3a3a3a" font-weight="bold">***</text>
<text x="278.03" y="375.75" font-size="6.2" text-anchor="middle" fill="#3a3a3a" font-weight="bold">***</text>
<text x="253.36" y="385.45" font-size="6.2" text-anchor="middle" fill="#3a3a3a" font-weight="bold">***</text>
<text x="265.69" y="385.45" font-size="6.2" text-anchor="middle" fill="#3a3a3a" font-weight="bold">***</text>
<text x="278.03" y="385.45" font-size="6.2" text-anchor="middle" fill="#3a3a3a" font-weight="bold">***</text>
<text x="290.36" y="385.45" font-size="6.2" text-anchor="middle" fill="#3a3a3a" font-weight="bold">*</text>
<text x="302.69" y="385.45" font-size="6.2" text-anchor="middle" fill="#3a3a3a" font-weight="bold">**</text>
<rect x="195.50" y="368.30" width="49.20" height="19.40" fill="none" stroke="#3c3c3c" stroke-width="1.1"/>
<rect x="247.20" y="368.30" width="73.98" height="19.40" fill="none" stroke="#3c3c3c" stroke-width="1.1"/>
<text x="95.0" y="11.4" font-size="11.25" text-anchor="start" fill="#2e2e2e">Ureteric Bud</text>
<text x="288.7" y="11.4" font-size="11.25" text-anchor="start" fill="#2e2e2e">Metanephric mesenchyme</text>
<text x="98.0" y="84.1" font-size="11.25" text-anchor="start" fill="#2e2e2e">Ureteric tip</text>
<text x="216.4" y="82.8" font-size="11.25" text-anchor="start" fill="#2e2e2e">Cap Mesenchyme</text>
<text x="403.45" y="82.9" font-size="11.25" text-anchor="start" fill="#2e2e2e">Stromal progenitors</text>
<text x="358.5" y="133.7" font-size="11.25" text-anchor="start" fill="#2e2e2e">Mesangial cells</text>
<text x="462.45" y="135.4" font-size="11.25" text-anchor="start" fill="#2e2e2e">Renal Interstitium</text>
<text x="90.7" y="159.8" font-size="11.25" text-anchor="start" fill="#2e2e2e">Collecting duct</text>
<text x="218.6" y="148.9" font-size="11.25" text-anchor="start" fill="#2e2e2e">Renal vesicle &amp;</text>
<text x="207.1" y="162.1" font-size="11.25" text-anchor="start" fill="#2e2e2e">comma-shaped body</text>
<text x="214.8" y="225.0" font-size="11.25" text-anchor="start" fill="#2e2e2e">S-shaped body</text>
<text x="152.4" y="290.3" font-size="11.25" text-anchor="start" fill="#2e2e2e">Podocytes</text>
<text x="291.1" y="290.9" font-size="11.25" text-anchor="start" fill="#2e2e2e">Proximal tubule</text>
<text x="213.95" y="350.5" font-size="11.25" text-anchor="start" fill="#2e2e2e">Distal tubule &amp;</text>
<text x="219.2" y="363.6" font-size="11.25" text-anchor="start" fill="#2e2e2e">loop of Henle</text>
<line x1="127.0" y1="36.8" x2="127.0" y2="71" stroke="#a0a0a0" stroke-width="1.6"/>
<path d="M124.70,70.50 L129.30,70.50 L127.00,75.30 Z" fill="#222"/>
<line x1="127.0" y1="111.0" x2="127.0" y2="145" stroke="#a0a0a0" stroke-width="1.6"/>
<path d="M124.70,144.40 L129.30,144.40 L127.00,149.20 Z" fill="#222"/>
<path d="M350.5,36.8 V51.6 M251.6,70.5 V51.6 H454.0 V69" fill="none" stroke="#4a4a4a" stroke-width="1.2"/>
<path d="M249.30,70.00 L253.90,70.00 L251.60,74.80 Z" fill="#222"/>
<path d="M451.70,68.80 L456.30,68.80 L454.00,73.60 Z" fill="#222"/>
<line x1="251.6" y1="113" x2="251.6" y2="135" stroke="#4a4a4a" stroke-width="1.2"/>
<path d="M249.30,134.40 L253.90,134.40 L251.60,139.20 Z" fill="#222"/>
<path d="M454.0,87.5 V101 M402.0,120 V101 H509.6 V121.5" fill="none" stroke="#4a4a4a" stroke-width="1.2"/>
<path d="M399.70,119.40 L404.30,119.40 L402.00,124.20 Z" fill="#222"/>
<path d="M507.30,121.00 L511.90,121.00 L509.60,125.80 Z" fill="#222"/>
<line x1="251.2" y1="187.5" x2="251.2" y2="210" stroke="#4a4a4a" stroke-width="1.2"/>
<path d="M248.90,209.40 L253.50,209.40 L251.20,214.20 Z" fill="#222"/>
<path d="M250.8,249 V334 M181.9,277 V261.5 H337.5 V276.5" fill="none" stroke="#4a4a4a" stroke-width="1.2"/>
<path d="M179.60,276.20 L184.20,276.20 L181.90,281.00 Z" fill="#222"/>
<path d="M335.20,275.80 L339.80,275.80 L337.50,280.60 Z" fill="#222"/>
<path d="M248.50,333.30 L253.10,333.30 L250.80,338.10 Z" fill="#222"/>
<rect x="426.9" y="207.5" width="186.6" height="179.6" rx="14" ry="14" fill="none" stroke="#5a5a5a" stroke-width="1.2"/>
<rect x="466.70" y="225.40" width="12.20" height="12.15" fill="#bd3a44"/>
<rect x="478.90" y="225.40" width="12.20" height="12.15" fill="#3a77b3"/>
<rect x="491.10" y="225.40" width="12.20" height="12.15" fill="#3f7fb8"/>
<rect x="503.30" y="225.40" width="12.20" height="12.15" fill="#8cbfdb"/>
<rect x="466.70" y="237.55" width="12.20" height="12.15" fill="#e07f72"/>
<rect x="478.90" y="237.55" width="12.20" height="12.15" fill="#4d94c4"/>
<rect x="491.10" y="237.55" width="12.20" height="12.15" fill="#5096c6"/>
<rect x="503.30" y="237.55" width="12.20" height="12.15" fill="#90c3dd"/>
<line x1="478.9" y1="225.4" x2="478.9" y2="249.70000000000002" stroke="#fff" stroke-width="0.8"/>
<line x1="491.09999999999997" y1="225.4" x2="491.09999999999997" y2="249.70000000000002" stroke="#fff" stroke-width="0.8"/>
<line x1="503.29999999999995" y1="225.4" x2="503.29999999999995" y2="249.70000000000002" stroke="#fff" stroke-width="0.8"/>
<line x1="466.7" y1="237.55" x2="515.5" y2="237.55" stroke="#fff" stroke-width="0.8"/>
<rect x="466.70" y="225.40" width="48.80" height="24.30" fill="none" stroke="#3c3c3c" stroke-width="1.1"/>
<rect x="533.80" y="225.40" width="12.32" height="12.15" fill="#ec7428"/>
<rect x="546.12" y="225.40" width="12.32" height="12.15" fill="#f4902f"/>
<rect x="558.44" y="225.40" width="12.32" height="12.15" fill="#f6a650"/>
<rect x="570.76" y="225.40" width="12.32" height="12.15" fill="#fde7d2"/>
<rect x="583.08" y="225.40" width="12.32" height="12.15" fill="#fde0c2"/>
<rect x="595.40" y="225.40" width="12.32" height="12.15" fill="#fde3c8"/>
<rect x="533.80" y="237.55" width="12.32" height="12.15" fill="#f48e30"/>
<rect x="546.12" y="237.55" width="12.32" height="12.15" fill="#f5973c"/>
<rect x="558.44" y="237.55" width="12.32" height="12.15" fill="#f7aa5a"/>
<rect x="570.76" y="237.55" width="12.32" height="12.15" fill="#fde7d2"/>
<rect x="583.08" y="237.55" width="12.32" height="12.15" fill="#fde3c8"/>
<rect x="595.40" y="237.55" width="12.32" height="12.15" fill="#fde3c8"/>
<line x1="546.12" y1="225.4" x2="546.12" y2="249.70000000000002" stroke="#fff" stroke-width="0.8"/>
<line x1="558.4399999999999" y1="225.4" x2="558.4399999999999" y2="249.70000000000002" stroke="#fff" stroke-width="0.8"/>
<line x1="570.76" y1="225.4" x2="570.76" y2="249.70000000000002" stroke="#fff" stroke-width="0.8"/>
<line x1="583.0799999999999" y1="225.4" x2="583.0799999999999" y2="249.70000000000002" stroke="#fff" stroke-width="0.8"/>
<line x1="595.4" y1="225.4" x2="595.4" y2="249.70000000000002" stroke="#fff" stroke-width="0.8"/>
<line x1="533.8" y1="237.55" x2="607.7199999999999" y2="237.55" stroke="#fff" stroke-width="0.8"/>
<rect x="533.80" y="225.40" width="73.92" height="24.30" fill="none" stroke="#3c3c3c" stroke-width="1.1"/>
<text x="498.6" y="218.4" font-size="7.8" text-anchor="middle" fill="#222">Z-score</text>
<text x="577.0" y="218.9" font-size="8.4" text-anchor="middle" fill="#222" font-style="italic">P</text>
<text x="458.5" y="234.4" font-size="9.6" text-anchor="end" fill="#1a1a1a">RNA</text>
<text x="459.8" y="247.7" font-size="9.6" text-anchor="end" fill="#1a1a1a">Protein</text>
<text x="475.1" y="258.0" font-size="8.6" text-anchor="end" fill="#1a1a1a" font-style="italic" transform="rotate(-60 475.1 258.0)">NAT</text>
<text x="488.2" y="258.0" font-size="8.6" text-anchor="end" fill="#1a1a1a" font-style="italic" transform="rotate(-60 488.2 258.0)">S1</text>
<text x="500.4" y="258.0" font-size="8.6" text-anchor="end" fill="#1a1a1a" font-style="italic" transform="rotate(-60 500.4 258.0)">S2</text>
<text x="512.6" y="258.0" font-size="8.6" text-anchor="end" fill="#1a1a1a" font-style="italic" transform="rotate(-60 512.6 258.0)">S3</text>
<text x="541.56" y="259.0" font-size="7.6" text-anchor="end" fill="#1a1a1a" font-style="italic" transform="rotate(-60 541.56 259.0)">NAT vs S1</text>
<text x="554.38" y="259.0" font-size="7.6" text-anchor="end" fill="#1a1a1a" font-style="italic" transform="rotate(-60 554.38 259.0)">NAT vs S2</text>
<text x="567.2" y="259.0" font-size="7.6" text-anchor="end" fill="#1a1a1a" font-style="italic" transform="rotate(-60 567.2 259.0)">NAT vs S3</text>
<text x="580.02" y="259.0" font-size="7.6" text-anchor="end" fill="#1a1a1a" font-style="italic" transform="rotate(-60 580.02 259.0)">S1 vs S2</text>
<text x="592.24" y="259.0" font-size="7.6" text-anchor="end" fill="#1a1a1a" font-style="italic" transform="rotate(-60 592.24 259.0)">S1 vs S3</text>
<text x="604.76" y="259.0" font-size="7.6" text-anchor="end" fill="#1a1a1a" font-style="italic" transform="rotate(-60 604.76 259.0)">S2 vs S3</text>
<text x="459.5" y="323.3" font-size="9.8" text-anchor="end" fill="#1a1a1a">·</text>
<text x="467.6" y="323.30" font-size="9.6" fill="#1a1a1a"><tspan font-style="italic">P</tspan> &lt; 0.1</text>
<text x="459.5" y="332.67" font-size="9.8" text-anchor="end" fill="#1a1a1a">*</text>
<text x="467.6" y="334.97" font-size="9.6" fill="#1a1a1a"><tspan font-style="italic">P</tspan> &lt; 0.05</text>
<text x="459.5" y="345.64" font-size="9.8" text-anchor="end" fill="#1a1a1a">**</text>
<text x="467.6" y="346.64" font-size="9.6" fill="#1a1a1a"><tspan font-style="italic">P</tspan> &lt; 0.01</text>
<text x="459.5" y="358.51" font-size="9.8" text-anchor="end" fill="#1a1a1a">***</text>
<text x="467.6" y="358.31" font-size="9.6" fill="#1a1a1a"><tspan font-style="italic">P</tspan> &lt; 0.001</text>
<defs>
<linearGradient id="gP" x1="0" y1="1" x2="0" y2="0">
<stop offset="0" stop-color="#fdeede"/><stop offset="0.16" stop-color="#fddcb8"/><stop offset="0.33" stop-color="#fcc68e"/>
<stop offset="0.5" stop-color="#fab060"/><stop offset="0.66" stop-color="#f7952f"/><stop offset="0.83" stop-color="#f0822a"/><stop offset="1" stop-color="#e3621f"/>
</linearGradient>
<linearGradient id="gZa" x1="0" y1="1" x2="0" y2="0">
<stop offset="0" stop-color="#1f3260"/><stop offset="0.12" stop-color="#263f74"/><stop offset="0.25" stop-color="#3672ad"/><stop offset="0.37" stop-color="#76abd0"/>
<stop offset="0.5" stop-color="#eef1f3"/><stop offset="0.62" stop-color="#f6d5c8"/><stop offset="0.75" stop-color="#e69a88"/><stop offset="0.87" stop-color="#b4343d"/><stop offset="1" stop-color="#6e1428"/>
</linearGradient>
</defs>
<rect x="528.10" y="319.40" width="12.90" height="65.30" fill="url(#gP)"/>
<line x1="528.1" y1="321.6" x2="530.6" y2="321.6" stroke="#fff" stroke-width="0.8"/>
<line x1="538.6" y1="321.6" x2="541.0" y2="321.6" stroke="#fff" stroke-width="0.8"/>
<text x="543.4" y="325.6" font-size="10.8" text-anchor="start" fill="#1a1a1a">30</text>
<line x1="528.1" y1="342.3" x2="530.6" y2="342.3" stroke="#fff" stroke-width="0.8"/>
<line x1="538.6" y1="342.3" x2="541.0" y2="342.3" stroke="#fff" stroke-width="0.8"/>
<text x="543.4" y="346.3" font-size="10.8" text-anchor="start" fill="#1a1a1a">20</text>
<line x1="528.1" y1="362.3" x2="530.6" y2="362.3" stroke="#fff" stroke-width="0.8"/>
<line x1="538.6" y1="362.3" x2="541.0" y2="362.3" stroke="#fff" stroke-width="0.8"/>
<text x="543.4" y="366.3" font-size="10.8" text-anchor="start" fill="#1a1a1a">10</text>
<line x1="528.1" y1="382.5" x2="530.6" y2="382.5" stroke="#fff" stroke-width="0.8"/>
<line x1="538.6" y1="382.5" x2="541.0" y2="382.5" stroke="#fff" stroke-width="0.8"/>
<text x="543.4" y="386.5" font-size="10.8" text-anchor="start" fill="#1a1a1a">0</text>
<text x="541.6" y="313.9" font-size="9.8" text-anchor="middle" fill="#1a1a1a">-log10(<tspan font-style="italic">P</tspan>)</text>
<rect x="574.90" y="319.00" width="12.40" height="59.10" fill="url(#gZa)"/>
<line x1="574.9" y1="321.2" x2="577.4" y2="321.2" stroke="#fff" stroke-width="0.8"/>
<line x1="584.8" y1="321.2" x2="587.3" y2="321.2" stroke="#fff" stroke-width="0.8"/>
<text x="589.3" y="325.2" font-size="10.8" text-anchor="start" fill="#1a1a1a">2</text>
<line x1="574.9" y1="335.0" x2="577.4" y2="335.0" stroke="#fff" stroke-width="0.8"/>
<line x1="584.8" y1="335.0" x2="587.3" y2="335.0" stroke="#fff" stroke-width="0.8"/>
<text x="589.3" y="339.0" font-size="10.8" text-anchor="start" fill="#1a1a1a">1</text>
<line x1="574.9" y1="348.2" x2="577.4" y2="348.2" stroke="#fff" stroke-width="0.8"/>
<line x1="584.8" y1="348.2" x2="587.3" y2="348.2" stroke="#fff" stroke-width="0.8"/>
<text x="589.3" y="352.2" font-size="10.8" text-anchor="start" fill="#1a1a1a">0</text>
<line x1="574.9" y1="362.0" x2="577.4" y2="362.0" stroke="#fff" stroke-width="0.8"/>
<line x1="584.8" y1="362.0" x2="587.3" y2="362.0" stroke="#fff" stroke-width="0.8"/>
<text x="588.3" y="366.0" font-size="10.8" text-anchor="start" fill="#1a1a1a">-1</text>
<line x1="574.9" y1="375.9" x2="577.4" y2="375.9" stroke="#fff" stroke-width="0.8"/>
<line x1="584.8" y1="375.9" x2="587.3" y2="375.9" stroke="#fff" stroke-width="0.8"/>
<text x="588.3" y="379.9" font-size="10.8" text-anchor="start" fill="#1a1a1a">-2</text>
<text x="592.0" y="313.9" font-size="9.8" text-anchor="middle" fill="#1a1a1a">Z-score</text>
<text x="-0.5" y="421.7" font-size="17.5" text-anchor="start" fill="#1a1a1a">b</text>
<text x="23.8" y="420.9" font-size="11.85" text-anchor="start" fill="#1a1a1a">Mesenchymal-epithelial transition (MET) signatures</text>
<text x="74.5" y="436.9" font-size="9.7" text-anchor="middle" fill="#1a1a1a">RNA</text>
<text x="158.9" y="436.9" font-size="9.8" text-anchor="middle" fill="#1a1a1a">Protein</text>
<rect x="31.70" y="443.10" width="20.78" height="26.33" fill="#2d5f9b"/>
<rect x="52.17" y="443.10" width="20.78" height="26.33" fill="#5a9bc8"/>
<rect x="72.65" y="443.10" width="20.78" height="26.33" fill="#a5cde2"/>
<rect x="93.12" y="443.10" width="20.78" height="26.33" fill="#dce6ee"/>
<rect x="31.70" y="469.13" width="20.78" height="26.33" fill="#e0806c"/>
<rect x="52.17" y="469.13" width="20.78" height="26.33" fill="#b5d5e7"/>
<rect x="72.65" y="469.13" width="20.78" height="26.33" fill="#5297c6"/>
<rect x="93.12" y="469.13" width="20.78" height="26.33" fill="#f2f0ef"/>
<rect x="31.70" y="495.16" width="20.78" height="26.33" fill="#263c6a"/>
<rect x="52.17" y="495.16" width="20.78" height="26.33" fill="#f0f1f1"/>
<rect x="72.65" y="495.16" width="20.78" height="26.33" fill="#b02c38"/>
<rect x="93.12" y="495.16" width="20.78" height="26.33" fill="#4a90c2"/>
<rect x="31.70" y="521.19" width="20.78" height="26.33" fill="#de7865"/>
<rect x="52.17" y="521.19" width="20.78" height="26.33" fill="#65142a"/>
<rect x="72.65" y="521.19" width="20.78" height="26.33" fill="#f0a085"/>
<rect x="93.12" y="521.19" width="20.78" height="26.33" fill="#d36656"/>
<rect x="31.70" y="547.22" width="20.78" height="26.33" fill="#c03a40"/>
<rect x="52.17" y="547.22" width="20.78" height="26.33" fill="#2d5f9b"/>
<rect x="72.65" y="547.22" width="20.78" height="26.33" fill="#4289c0"/>
<rect x="93.12" y="547.22" width="20.78" height="26.33" fill="#5b9bc8"/>
<rect x="31.70" y="573.25" width="20.78" height="26.33" fill="#f8e6e0"/>
<rect x="52.17" y="573.25" width="20.78" height="26.33" fill="#458bc2"/>
<rect x="72.65" y="573.25" width="20.78" height="26.33" fill="#f8c5b0"/>
<rect x="93.12" y="573.25" width="20.78" height="26.33" fill="#92c3dc"/>
<text x="62.41" y="458.12" font-size="8.6" text-anchor="middle" fill="#555">**</text>
<text x="82.89" y="458.12" font-size="8.6" text-anchor="middle" fill="#555">***</text>
<text x="103.36" y="458.12" font-size="8.6" text-anchor="middle" fill="#555">***</text>
<text x="62.41" y="484.14" font-size="8.6" text-anchor="middle" fill="#555">***</text>
<text x="82.89" y="484.14" font-size="8.6" text-anchor="middle" fill="#555">***</text>
<text x="103.36" y="484.14" font-size="8.6" text-anchor="middle" fill="#555">*</text>
<text x="62.41" y="510.18" font-size="8.6" text-anchor="middle" fill="#555">***</text>
<text x="82.89" y="510.18" font-size="8.6" text-anchor="middle" fill="#555">***</text>
<text x="103.36" y="510.18" font-size="8.6" text-anchor="middle" fill="#555">***</text>
<text x="62.41" y="536.21" font-size="8.6" text-anchor="middle" fill="#555">***</text>
<text x="82.89" y="536.21" font-size="8.6" text-anchor="middle" fill="#555">*</text>
<text x="62.41" y="562.24" font-size="8.6" text-anchor="middle" fill="#555">***</text>
<text x="82.89" y="562.24" font-size="8.6" text-anchor="middle" fill="#555">***</text>
<text x="103.36" y="562.24" font-size="8.6" text-anchor="middle" fill="#555">***</text>
<text x="62.41" y="588.26" font-size="8.6" text-anchor="middle" fill="#555">***</text>
<text x="103.36" y="588.26" font-size="8.6" text-anchor="middle" fill="#555">*</text>
<rect x="31.70" y="443.10" width="81.90" height="156.18" fill="none" stroke="#1a1a1a" stroke-width="1.1"/>
<rect x="116.60" y="443.10" width="20.88" height="26.33" fill="#f9dbd2"/>
<rect x="137.17" y="443.10" width="20.88" height="26.33" fill="#5598c6"/>
<rect x="157.75" y="443.10" width="20.88" height="26.33" fill="#c5dceb"/>
<rect x="178.32" y="443.10" width="20.88" height="26.33" fill="#dfe6ed"/>
<rect x="116.60" y="469.13" width="20.88" height="26.33" fill="#8c2130"/>
<rect x="137.17" y="469.13" width="20.88" height="26.33" fill="#6aa8cf"/>
<rect x="157.75" y="469.13" width="20.88" height="26.33" fill="#92c5de"/>
<rect x="178.32" y="469.13" width="20.88" height="26.33" fill="#f8e6e2"/>
<rect x="116.60" y="495.16" width="20.88" height="26.33" fill="#fad8cb"/>
<rect x="137.17" y="495.16" width="20.88" height="26.33" fill="#cfe2ee"/>
<rect x="157.75" y="495.16" width="20.88" height="26.33" fill="#f8c7b3"/>
<rect x="178.32" y="495.16" width="20.88" height="26.33" fill="#d6e6f0"/>
<rect x="116.60" y="521.19" width="20.88" height="26.33" fill="#b9b9b9"/>
<rect x="137.17" y="521.19" width="20.88" height="26.33" fill="#b9b9b9"/>
<rect x="157.75" y="521.19" width="20.88" height="26.33" fill="#b9b9b9"/>
<rect x="178.32" y="521.19" width="20.88" height="26.33" fill="#b9b9b9"/>
<rect x="116.60" y="547.22" width="20.88" height="26.33" fill="#7d1c2b"/>
<rect x="137.17" y="547.22" width="20.88" height="26.33" fill="#f4ae97"/>
<rect x="157.75" y="547.22" width="20.88" height="26.33" fill="#c45450"/>
<rect x="178.32" y="547.22" width="20.88" height="26.33" fill="#f2a58c"/>
<rect x="116.60" y="573.25" width="20.88" height="26.33" fill="#b9b9b9"/>
<rect x="137.17" y="573.25" width="20.88" height="26.33" fill="#b9b9b9"/>
<rect x="157.75" y="573.25" width="20.88" height="26.33" fill="#b9b9b9"/>
<rect x="178.32" y="573.25" width="20.88" height="26.33" fill="#b9b9b9"/>
<text x="147.46" y="458.12" font-size="8.6" text-anchor="middle" fill="#555">***</text>
<text x="168.04" y="458.12" font-size="8.6" text-anchor="middle" fill="#555">**</text>
<text x="188.61" y="458.12" font-size="8.6" text-anchor="middle" fill="#555">**</text>
<text x="147.46" y="484.14" font-size="8.6" text-anchor="middle" fill="#555">***</text>
<text x="168.04" y="484.14" font-size="8.6" text-anchor="middle" fill="#555">***</text>
<text x="188.61" y="484.14" font-size="8.6" text-anchor="middle" fill="#555">***</text>
<text x="147.46" y="510.18" font-size="8.6" text-anchor="middle" fill="#555">***</text>
<text x="188.61" y="510.18" font-size="8.6" text-anchor="middle" fill="#555">**</text>
<text x="147.46" y="562.24" font-size="8.6" text-anchor="middle" fill="#555">***</text>
<text x="168.04" y="562.24" font-size="8.6" text-anchor="middle" fill="#555">***</text>
<text x="188.61" y="562.24" font-size="8.6" text-anchor="middle" fill="#555">***</text>
<rect x="116.60" y="443.10" width="82.30" height="156.18" fill="none" stroke="#1a1a1a" stroke-width="1.1"/>
<text x="202.0" y="459.9" font-size="10.1" text-anchor="start" fill="#1a1a1a">CDH4</text>
<text x="202.0" y="485.93" font-size="10.1" text-anchor="start" fill="#1a1a1a">CDH6</text>
<text x="202.0" y="511.96" font-size="10.1" text-anchor="start" fill="#1a1a1a">PAX3</text>
<text x="202.0" y="537.99" font-size="10.1" text-anchor="start" fill="#1a1a1a">FGFR2</text>
<text x="202.0" y="564.02" font-size="10.1" text-anchor="start" fill="#1a1a1a">FGF1</text>
<text x="202.0" y="590.05" font-size="10.1" text-anchor="start" fill="#1a1a1a">FGF7</text>
<text x="45.94" y="603.4" font-size="10.7" text-anchor="end" fill="#1a1a1a" transform="rotate(-90 45.94 603.4)">NAT</text>
<text x="130.89" y="603.4" font-size="10.7" text-anchor="end" fill="#1a1a1a" transform="rotate(-90 130.89 603.4)">NAT</text>
<text x="66.41" y="603.4" font-size="10.7" text-anchor="end" fill="#1a1a1a" transform="rotate(-90 66.41 603.4)">S1</text>
<text x="151.46" y="603.4" font-size="10.7" text-anchor="end" fill="#1a1a1a" transform="rotate(-90 151.46 603.4)">S1</text>
<text x="86.89" y="603.4" font-size="10.7" text-anchor="end" fill="#1a1a1a" transform="rotate(-90 86.89 603.4)">S2</text>
<text x="172.04" y="603.4" font-size="10.7" text-anchor="end" fill="#1a1a1a" transform="rotate(-90 172.04 603.4)">S2</text>
<text x="107.37" y="603.4" font-size="10.7" text-anchor="end" fill="#1a1a1a" transform="rotate(-90 107.37 603.4)">S3</text>
<text x="192.61" y="603.4" font-size="10.7" text-anchor="end" fill="#1a1a1a" transform="rotate(-90 192.61 603.4)">S3</text>
<defs><linearGradient id="gZb" x1="0" y1="1" x2="0" y2="0">
<stop offset="0" stop-color="#262c5a"/><stop offset="0.1" stop-color="#2b5693"/><stop offset="0.2" stop-color="#3d7fb8"/><stop offset="0.3" stop-color="#9ac6df"/>
<stop offset="0.4" stop-color="#d8e6ef"/><stop offset="0.48" stop-color="#f5f5f5"/><stop offset="0.6" stop-color="#f6d0c0"/><stop offset="0.7" stop-color="#e08070"/>
<stop offset="0.8" stop-color="#b2313a"/><stop offset="0.9" stop-color="#8a1a30"/><stop offset="1" stop-color="#6b1328"/>
</linearGradient></defs>
<text x="246.2" y="484.6" font-size="10.7" text-anchor="start" fill="#1a1a1a" font-weight="bold">Z-score</text>
<rect x="246.00" y="489.00" width="12.90" height="77.60" fill="url(#gZb)"/>
<line x1="246.0" y1="491.9" x2="248.4" y2="491.9" stroke="#fff" stroke-width="0.8"/>
<line x1="256.5" y1="491.9" x2="258.9" y2="491.9" stroke="#fff" stroke-width="0.8"/>
<text x="261.4" y="495.5" font-size="10.2" text-anchor="start" fill="#1a1a1a">2</text>
<line x1="246.0" y1="506.44" x2="248.4" y2="506.44" stroke="#fff" stroke-width="0.8"/>
<line x1="256.5" y1="506.44" x2="258.9" y2="506.44" stroke="#fff" stroke-width="0.8"/>
<text x="261.4" y="510.04" font-size="10.2" text-anchor="start" fill="#1a1a1a">1</text>
<line x1="246.0" y1="520.98" x2="248.4" y2="520.98" stroke="#fff" stroke-width="0.8"/>
<line x1="256.5" y1="520.98" x2="258.9" y2="520.98" stroke="#fff" stroke-width="0.8"/>
<text x="261.4" y="524.58" font-size="10.2" text-anchor="start" fill="#1a1a1a">0</text>
<line x1="246.0" y1="535.52" x2="248.4" y2="535.52" stroke="#fff" stroke-width="0.8"/>
<line x1="256.5" y1="535.52" x2="258.9" y2="535.52" stroke="#fff" stroke-width="0.8"/>
<text x="260.6" y="539.12" font-size="10.2" text-anchor="start" fill="#1a1a1a">-1</text>
<line x1="246.0" y1="550.06" x2="248.4" y2="550.06" stroke="#fff" stroke-width="0.8"/>
<line x1="256.5" y1="550.06" x2="258.9" y2="550.06" stroke="#fff" stroke-width="0.8"/>
<text x="260.6" y="553.66" font-size="10.2" text-anchor="start" fill="#1a1a1a">-2</text>
<line x1="246.0" y1="564.5999999999999" x2="248.4" y2="564.5999999999999" stroke="#fff" stroke-width="0.8"/>
<line x1="256.5" y1="564.5999999999999" x2="258.9" y2="564.5999999999999" stroke="#fff" stroke-width="0.8"/>
<text x="260.6" y="568.2" font-size="10.2" text-anchor="start" fill="#1a1a1a">-3</text>
<text x="310.5" y="421.5" font-size="17.5" text-anchor="start" fill="#1a1a1a">c</text>
<text x="389.4" y="437.0" font-size="9.0" text-anchor="start" fill="#1a1a1a">Significance</text>
<circle cx="444.4" cy="435.4" r="1.25" fill="#000"/>
<text x="449.3" y="437.0" font-size="9.0" text-anchor="start" fill="#1a1a1a">No</text>
<circle cx="472.0" cy="436.0" r="5.1" fill="#000"/>
<text x="482.0" y="437.0" font-size="9.0" text-anchor="start" fill="#1a1a1a">Yes</text>
<text x="507.4" y="437.4" font-size="9.0" text-anchor="start" fill="#1a1a1a">Normalized Enrichment Score</text>
<defs><linearGradient id="gN" x1="0" y1="0" x2="1" y2="0">
<stop offset="0" stop-color="#2b3a9a"/><stop offset="0.2" stop-color="#6a70b8"/><stop offset="0.4" stop-color="#c5c8e2"/><stop offset="0.5" stop-color="#eab4c4"/>
<stop offset="0.6" stop-color="#f08090"/><stop offset="0.8" stop-color="#ee6070"/><stop offset="1" stop-color="#d42a30"/>
</linearGradient></defs>
<rect x="629.80" y="429.90" width="55.20" height="10.90" fill="url(#gN)"/>
<line x1="631.4" y1="429.9" x2="631.4" y2="431.8" stroke="#fff" stroke-width="0.7"/>
<line x1="631.4" y1="438.9" x2="631.4" y2="440.8" stroke="#fff" stroke-width="0.7"/>
<text x="631.4" y="447.9" font-size="5.6" text-anchor="middle" fill="#1a1a1a">-2</text>
<line x1="641.86" y1="429.9" x2="641.86" y2="431.8" stroke="#fff" stroke-width="0.7"/>
<line x1="641.86" y1="438.9" x2="641.86" y2="440.8" stroke="#fff" stroke-width="0.7"/>
<text x="641.86" y="447.9" font-size="5.6" text-anchor="middle" fill="#1a1a1a">-1</text>
<line x1="652.3199999999999" y1="429.9" x2="652.3199999999999" y2="431.8" stroke="#fff" stroke-width="0.7"/>
<line x1="652.3199999999999" y1="438.9" x2="652.3199999999999" y2="440.8" stroke="#fff" stroke-width="0.7"/>
<text x="652.32" y="447.9" font-size="5.6" text-anchor="middle" fill="#1a1a1a">0</text>
<line x1="662.78" y1="429.9" x2="662.78" y2="431.8" stroke="#fff" stroke-width="0.7"/>
<line x1="662.78" y1="438.9" x2="662.78" y2="440.8" stroke="#fff" stroke-width="0.7"/>
<text x="662.78" y="447.9" font-size="5.6" text-anchor="middle" fill="#1a1a1a">1</text>
<line x1="673.24" y1="429.9" x2="673.24" y2="431.8" stroke="#fff" stroke-width="0.7"/>
<line x1="673.24" y1="438.9" x2="673.24" y2="440.8" stroke="#fff" stroke-width="0.7"/>
<text x="673.24" y="447.9" font-size="5.6" text-anchor="middle" fill="#1a1a1a">2</text>
<line x1="683.6999999999999" y1="429.9" x2="683.6999999999999" y2="431.8" stroke="#fff" stroke-width="0.7"/>
<line x1="683.6999999999999" y1="438.9" x2="683.6999999999999" y2="440.8" stroke="#fff" stroke-width="0.7"/>
<text x="683.7" y="447.9" font-size="5.6" text-anchor="middle" fill="#1a1a1a">3</text>
<text x="309.6" y="506.4" font-size="9.0" text-anchor="middle" fill="#1a1a1a" transform="rotate(-90 309.6 506.4)" dominant-baseline="middle">Developmental phases</text>
<rect x="397.60" y="460.30" width="140.90" height="12.60" fill="#e8e8e8" stroke="#111" stroke-width="1.3"/>
<text x="468.05" y="469.8" font-size="8.0" text-anchor="middle" fill="#333">RNA</text>
<line x1="411.2" y1="473.0" x2="411.2" y2="555.4" stroke="#c8c8c8" stroke-width="0.7" stroke-dasharray="1,3.5"/>
<line x1="433.92" y1="473.0" x2="433.92" y2="555.4" stroke="#c8c8c8" stroke-width="0.7" stroke-dasharray="1,3.5"/>
<line x1="456.64" y1="473.0" x2="456.64" y2="555.4" stroke="#c8c8c8" stroke-width="0.7" stroke-dasharray="1,3.5"/>
<line x1="479.36" y1="473.0" x2="479.36" y2="555.4" stroke="#c8c8c8" stroke-width="0.7" stroke-dasharray="1,3.5"/>
<line x1="502.08" y1="473.0" x2="502.08" y2="555.4" stroke="#c8c8c8" stroke-width="0.7" stroke-dasharray="1,3.5"/>
<line x1="524.8" y1="473.0" x2="524.8" y2="555.4" stroke="#c8c8c8" stroke-width="0.7" stroke-dasharray="1,3.5"/>
<line x1="397.6" y1="488.6" x2="538.5" y2="488.6" stroke="#c8c8c8" stroke-width="0.7" stroke-dasharray="1,3.5"/>
<line x1="397.6" y1="514.6" x2="538.5" y2="514.6" stroke="#c8c8c8" stroke-width="0.7" stroke-dasharray="1,3.5"/>
<line x1="397.6" y1="540.4" x2="538.5" y2="540.4" stroke="#c8c8c8" stroke-width="0.7" stroke-dasharray="1,3.5"/>
<circle cx="411.20" cy="488.6" r="4.7" fill="#3f3a99"/>
<circle cx="433.92" cy="488.6" r="4.7" fill="#2546a0"/>
<circle cx="456.64" cy="488.6" r="4.7" fill="#3f3a99"/>
<circle cx="479.36" cy="488.6" r="4.7" fill="#3f3a99"/>
<circle cx="502.08" cy="488.6" r="4.7" fill="#3f3a99"/>
<circle cx="524.80" cy="488.6" r="1.35" fill="#f08090"/>
<circle cx="411.20" cy="514.6" r="4.7" fill="#ef7480"/>
<circle cx="433.92" cy="514.6" r="1.35" fill="#ef7480"/>
<circle cx="456.64" cy="514.6" r="4.7" fill="#ef7480"/>
<circle cx="479.36" cy="514.6" r="4.7" fill="#ee7480"/>
<circle cx="502.08" cy="514.6" r="1.35" fill="#f08090"/>
<circle cx="524.80" cy="514.6" r="1.35" fill="#4455bb"/>
<circle cx="411.20" cy="540.4" r="4.7" fill="#e84c52"/>
<circle cx="433.92" cy="540.4" r="4.7" fill="#e84c52"/>
<circle cx="456.64" cy="540.4" r="4.7" fill="#e84c52"/>
<circle cx="479.36" cy="540.4" r="4.7" fill="#e84c52"/>
<circle cx="502.08" cy="540.4" r="4.7" fill="#d93a40"/>
<circle cx="524.80" cy="540.4" r="1.35" fill="#5566bb"/>
<rect x="397.60" y="472.90" width="140.90" height="82.50" fill="none" stroke="#111" stroke-width="1.3"/>
<line x1="411.2" y1="555.4" x2="411.2" y2="558.0" stroke="#333" stroke-width="0.9"/>
<text x="416.2" y="564.5" font-size="7.9" text-anchor="end" fill="#333" transform="rotate(-45 416.2 564.5)">S1 vs NAT</text>
<line x1="433.92" y1="555.4" x2="433.92" y2="558.0" stroke="#333" stroke-width="0.9"/>
<text x="438.92" y="564.5" font-size="7.9" text-anchor="end" fill="#333" transform="rotate(-45 438.92 564.5)">S2 vs NAT</text>
<line x1="456.64" y1="555.4" x2="456.64" y2="558.0" stroke="#333" stroke-width="0.9"/>
<text x="461.64" y="564.5" font-size="7.9" text-anchor="end" fill="#333" transform="rotate(-45 461.64 564.5)">S3 vs NAT</text>
<line x1="479.36" y1="555.4" x2="479.36" y2="558.0" stroke="#333" stroke-width="0.9"/>
<text x="484.36" y="564.5" font-size="7.9" text-anchor="end" fill="#333" transform="rotate(-45 484.36 564.5)">S1 vs S2</text>
<line x1="502.08" y1="555.4" x2="502.08" y2="558.0" stroke="#333" stroke-width="0.9"/>
<text x="507.08" y="564.5" font-size="7.9" text-anchor="end" fill="#333" transform="rotate(-45 507.08 564.5)">S1 vs S3</text>
<line x1="524.8" y1="555.4" x2="524.8" y2="558.0" stroke="#333" stroke-width="0.9"/>
<text x="529.8" y="564.5" font-size="7.9" text-anchor="end" fill="#333" transform="rotate(-45 529.8 564.5)">S2 vs S3</text>
<rect x="542.70" y="460.30" width="140.90" height="12.60" fill="#e8e8e8" stroke="#111" stroke-width="1.3"/>
<text x="613.15" y="469.8" font-size="8.0" text-anchor="middle" fill="#333">Protein</text>
<line x1="556.3" y1="473.0" x2="556.3" y2="555.4" stroke="#c8c8c8" stroke-width="0.7" stroke-dasharray="1,3.5"/>
<line x1="579.02" y1="473.0" x2="579.02" y2="555.4" stroke="#c8c8c8" stroke-width="0.7" stroke-dasharray="1,3.5"/>
<line x1="601.74" y1="473.0" x2="601.74" y2="555.4" stroke="#c8c8c8" stroke-width="0.7" stroke-dasharray="1,3.5"/>
<line x1="624.46" y1="473.0" x2="624.46" y2="555.4" stroke="#c8c8c8" stroke-width="0.7" stroke-dasharray="1,3.5"/>
<line x1="647.18" y1="473.0" x2="647.18" y2="555.4" stroke="#c8c8c8" stroke-width="0.7" stroke-dasharray="1,3.5"/>
<line x1="669.9" y1="473.0" x2="669.9" y2="555.4" stroke="#c8c8c8" stroke-width="0.7" stroke-dasharray="1,3.5"/>
<line x1="542.7" y1="488.6" x2="683.6" y2="488.6" stroke="#c8c8c8" stroke-width="0.7" stroke-dasharray="1,3.5"/>
<line x1="542.7" y1="514.6" x2="683.6" y2="514.6" stroke="#c8c8c8" stroke-width="0.7" stroke-dasharray="1,3.5"/>
<line x1="542.7" y1="540.4" x2="683.6" y2="540.4" stroke="#c8c8c8" stroke-width="0.7" stroke-dasharray="1,3.5"/>
<circle cx="556.30" cy="488.6" r="1.35" fill="#f08090"/>
<circle cx="579.02" cy="488.6" r="1.35" fill="#f08090"/>
<circle cx="601.74" cy="488.6" r="1.35" fill="#f0909c"/>
<circle cx="624.46" cy="488.6" r="1.35" fill="#f4a0b0"/>
<circle cx="647.18" cy="488.6" r="1.35" fill="#f4a0b0"/>
<circle cx="669.90" cy="488.6" r="1.35" fill="#f08090"/>
<circle cx="556.30" cy="514.6" r="4.7" fill="#ef6a75"/>
<circle cx="579.02" cy="514.6" r="4.7" fill="#ef6a75"/>
<circle cx="601.74" cy="514.6" r="4.7" fill="#ef7480"/>
<circle cx="624.46" cy="514.6" r="1.35" fill="#ef6a75"/>
<circle cx="647.18" cy="514.6" r="4.7" fill="#ef6a75"/>
<circle cx="669.90" cy="514.6" r="4.7" fill="#ef7480"/>
<circle cx="556.30" cy="540.4" r="4.7" fill="#d53a3c"/>
<circle cx="579.02" cy="540.4" r="4.7" fill="#c82d30"/>
<circle cx="601.74" cy="540.4" r="4.7" fill="#d63c3e"/>
<circle cx="624.46" cy="540.4" r="4.7" fill="#ef5a60"/>
<circle cx="647.18" cy="540.4" r="4.7" fill="#d63c3e"/>
<circle cx="669.90" cy="540.4" r="4.7" fill="#ef6a75"/>
<rect x="542.70" y="472.90" width="140.90" height="82.50" fill="none" stroke="#111" stroke-width="1.3"/>
<line x1="556.3" y1="555.4" x2="556.3" y2="558.0" stroke="#333" stroke-width="0.9"/>
<text x="561.3" y="564.5" font-size="7.9" text-anchor="end" fill="#333" transform="rotate(-45 561.3 564.5)">S1 vs NAT</text>
<line x1="579.02" y1="555.4" x2="579.02" y2="558.0" stroke="#333" stroke-width="0.9"/>
<text x="584.02" y="564.5" font-size="7.9" text-anchor="end" fill="#333" transform="rotate(-45 584.02 564.5)">S2 vs NAT</text>
<line x1="601.74" y1="555.4" x2="601.74" y2="558.0" stroke="#333" stroke-width="0.9"/>
<text x="606.74" y="564.5" font-size="7.9" text-anchor="end" fill="#333" transform="rotate(-45 606.74 564.5)">S3 vs NAT</text>
<line x1="624.46" y1="555.4" x2="624.46" y2="558.0" stroke="#333" stroke-width="0.9"/>
<text x="629.46" y="564.5" font-size="7.9" text-anchor="end" fill="#333" transform="rotate(-45 629.46 564.5)">S1 vs S2</text>
<line x1="647.18" y1="555.4" x2="647.18" y2="558.0" stroke="#333" stroke-width="0.9"/>
<text x="652.18" y="564.5" font-size="7.9" text-anchor="end" fill="#333" transform="rotate(-45 652.18 564.5)">S1 vs S3</text>
<line x1="669.9" y1="555.4" x2="669.9" y2="558.0" stroke="#333" stroke-width="0.9"/>
<text x="674.9" y="564.5" font-size="7.9" text-anchor="end" fill="#333" transform="rotate(-45 674.9 564.5)">S2 vs S3</text>
<line x1="394.9" y1="488.6" x2="397.6" y2="488.6" stroke="#333" stroke-width="0.9"/>
<text x="393.9" y="491.9" font-size="9.0" text-anchor="end" fill="#4d4d4d">Ureteric Bud</text>
<line x1="394.9" y1="514.6" x2="397.6" y2="514.6" stroke="#333" stroke-width="0.9"/>
<text x="393.9" y="517.9" font-size="9.0" text-anchor="end" fill="#4d4d4d">Renal vesicle</text>
<line x1="394.9" y1="540.4" x2="397.6" y2="540.4" stroke="#333" stroke-width="0.9"/>
<text x="393.9" y="543.7" font-size="9.0" text-anchor="end" fill="#4d4d4d">Cap Mesenchyme</text>
<text x="0.2" y="650.5" font-size="17.3" text-anchor="start" fill="#1a1a1a">d</text>
<line x1="86.34" y1="640.0" x2="86.34" y2="808.0" stroke="#d4d4d4" stroke-width="0.8" stroke-dasharray="1,2.7"/>
<line x1="100.57" y1="640.0" x2="100.57" y2="808.0" stroke="#d4d4d4" stroke-width="0.8" stroke-dasharray="1,2.7"/>
<line x1="114.8" y1="640.0" x2="114.8" y2="808.0" stroke="#d4d4d4" stroke-width="0.8" stroke-dasharray="1,2.7"/>
<line x1="129.04" y1="640.0" x2="129.04" y2="808.0" stroke="#d4d4d4" stroke-width="0.8" stroke-dasharray="1,2.7"/>
<line x1="143.27" y1="640.0" x2="143.27" y2="808.0" stroke="#d4d4d4" stroke-width="0.8" stroke-dasharray="1,2.7"/>
<line x1="157.5" y1="640.0" x2="157.5" y2="808.0" stroke="#d4d4d4" stroke-width="0.8" stroke-dasharray="1,2.7"/>
<line x1="171.74" y1="640.0" x2="171.74" y2="808.0" stroke="#d4d4d4" stroke-width="0.8" stroke-dasharray="1,2.7"/>
<line x1="185.97" y1="640.0" x2="185.97" y2="808.0" stroke="#d4d4d4" stroke-width="0.8" stroke-dasharray="1,2.7"/>
<line x1="200.2" y1="640.0" x2="200.2" y2="808.0" stroke="#d4d4d4" stroke-width="0.8" stroke-dasharray="1,2.7"/>
<line x1="214.43" y1="640.0" x2="214.43" y2="808.0" stroke="#d4d4d4" stroke-width="0.8" stroke-dasharray="1,2.7"/>
<line x1="228.67" y1="640.0" x2="228.67" y2="808.0" stroke="#d4d4d4" stroke-width="0.8" stroke-dasharray="1,2.7"/>
<line x1="242.9" y1="640.0" x2="242.9" y2="808.0" stroke="#d4d4d4" stroke-width="0.8" stroke-dasharray="1,2.7"/>
<line x1="257.13" y1="640.0" x2="257.13" y2="808.0" stroke="#d4d4d4" stroke-width="0.8" stroke-dasharray="1,2.7"/>
<line x1="271.36" y1="640.0" x2="271.36" y2="808.0" stroke="#d4d4d4" stroke-width="0.8" stroke-dasharray="1,2.7"/>
<line x1="285.6" y1="640.0" x2="285.6" y2="808.0" stroke="#d4d4d4" stroke-width="0.8" stroke-dasharray="1,2.7"/>
<line x1="299.83" y1="640.0" x2="299.83" y2="808.0" stroke="#d4d4d4" stroke-width="0.8" stroke-dasharray="1,2.7"/>
<line x1="314.06" y1="640.0" x2="314.06" y2="808.0" stroke="#d4d4d4" stroke-width="0.8" stroke-dasharray="1,2.7"/>
<line x1="328.3" y1="640.0" x2="328.3" y2="808.0" stroke="#d4d4d4" stroke-width="0.8" stroke-dasharray="1,2.7"/>
<line x1="342.53" y1="640.0" x2="342.53" y2="808.0" stroke="#d4d4d4" stroke-width="0.8" stroke-dasharray="1,2.7"/>
<line x1="356.76" y1="640.0" x2="356.76" y2="808.0" stroke="#d4d4d4" stroke-width="0.8" stroke-dasharray="1,2.7"/>
<circle cx="86.34" cy="800.7" r="5.75" fill="#fde4cc"/>
<circle cx="100.57" cy="778.8" r="5.75" fill="#dd5a26"/>
<circle cx="114.80" cy="760.8" r="5.75" fill="#dd5a26"/>
<circle cx="129.04" cy="756.8" r="5.75" fill="#dd5a26"/>
<circle cx="143.27" cy="750.6" r="5.75" fill="#dd5a26"/>
<circle cx="157.50" cy="749.6" r="5.75" fill="#dd5a26"/>
<circle cx="171.74" cy="747.6" r="5.75" fill="#dd5a26"/>
<circle cx="185.97" cy="742.9" r="5.75" fill="#dd5a26"/>
<circle cx="200.20" cy="735.3" r="5.75" fill="#dd5a26"/>
<circle cx="214.43" cy="731.5" r="5.75" fill="#dd5a26"/>
<circle cx="228.67" cy="728.0" r="5.75" fill="#dd5a26"/>
<circle cx="242.90" cy="726.0" r="5.75" fill="#dd5a26"/>
<circle cx="257.13" cy="722.2" r="5.75" fill="#dd5a26"/>
<circle cx="271.36" cy="720.7" r="5.75" fill="#dd5a26"/>
<circle cx="285.60" cy="712.6" r="5.75" fill="#dd5a26"/>
<circle cx="299.83" cy="708.5" r="5.75" fill="#dd5a26"/>
<circle cx="314.06" cy="695.3" r="5.75" fill="#dd5a26"/>
<circle cx="328.30" cy="685.7" r="5.75" fill="#dd5a26"/>
<circle cx="342.53" cy="669.6" r="5.75" fill="#dd5a26"/>
<circle cx="356.76" cy="647.2" r="5.75" fill="#dd5a26"/>
<rect x="77.8" y="640.0" width="287.50" height="168.0" fill="none" stroke="#333" stroke-width="1.1"/>
<line x1="74.8" y1="651.4" x2="77.8" y2="651.4" stroke="#333" stroke-width="1.0"/>
<text x="72.4" y="655.6" font-size="11.6" text-anchor="end" fill="#1a1a1a">2.5</text>
<line x1="74.8" y1="706.2" x2="77.8" y2="706.2" stroke="#333" stroke-width="1.0"/>
<text x="72.4" y="710.4" font-size="11.6" text-anchor="end" fill="#1a1a1a">2.0</text>
<line x1="74.8" y1="760.8" x2="77.8" y2="760.8" stroke="#333" stroke-width="1.0"/>
<text x="72.4" y="765.0" font-size="11.6" text-anchor="end" fill="#1a1a1a">1.5</text>
<line x1="86.34" y1="808.0" x2="86.34" y2="810.8" stroke="#333" stroke-width="1.0"/>
<text x="91.24" y="819.0" font-size="11.7" text-anchor="end" fill="#1a1a1a" transform="rotate(-45 91.24 819.0)">NR2F1</text>
<line x1="100.57" y1="808.0" x2="100.57" y2="810.8" stroke="#333" stroke-width="1.0"/>
<text x="105.47" y="819.0" font-size="11.7" text-anchor="end" fill="#1a1a1a" transform="rotate(-45 105.47 819.0)">RBPJ</text>
<line x1="114.8" y1="808.0" x2="114.8" y2="810.8" stroke="#333" stroke-width="1.0"/>
<text x="119.7" y="819.0" font-size="11.7" text-anchor="end" fill="#1a1a1a" transform="rotate(-45 119.7 819.0)">ZNF423</text>
<line x1="129.04" y1="808.0" x2="129.04" y2="810.8" stroke="#333" stroke-width="1.0"/>
<text x="133.94" y="819.0" font-size="11.7" text-anchor="end" fill="#1a1a1a" transform="rotate(-45 133.94 819.0)">TTF1</text>
<line x1="143.27" y1="808.0" x2="143.27" y2="810.8" stroke="#333" stroke-width="1.0"/>
<text x="148.17" y="819.0" font-size="11.7" text-anchor="end" fill="#1a1a1a" transform="rotate(-45 148.17 819.0)">WDHD1</text>
<line x1="157.5" y1="808.0" x2="157.5" y2="810.8" stroke="#333" stroke-width="1.0"/>
<text x="162.4" y="819.0" font-size="11.7" text-anchor="end" fill="#1a1a1a" transform="rotate(-45 162.4 819.0)">TCF7L2</text>
<line x1="171.74" y1="808.0" x2="171.74" y2="810.8" stroke="#333" stroke-width="1.0"/>
<text x="176.64" y="819.0" font-size="11.7" text-anchor="end" fill="#1a1a1a" transform="rotate(-45 176.64 819.0)">MEIS1</text>
<line x1="185.97" y1="808.0" x2="185.97" y2="810.8" stroke="#333" stroke-width="1.0"/>
<text x="190.87" y="819.0" font-size="11.7" text-anchor="end" fill="#1a1a1a" transform="rotate(-45 190.87 819.0)">ARID3A</text>
<line x1="200.2" y1="808.0" x2="200.2" y2="810.8" stroke="#333" stroke-width="1.0"/>
<text x="205.1" y="819.0" font-size="11.7" text-anchor="end" fill="#1a1a1a" transform="rotate(-45 205.1 819.0)">HMGB1</text>
<line x1="214.43" y1="808.0" x2="214.43" y2="810.8" stroke="#333" stroke-width="1.0"/>
<text x="219.33" y="819.0" font-size="11.7" text-anchor="end" fill="#1a1a1a" transform="rotate(-45 219.33 819.0)">CUX1</text>
<line x1="228.67" y1="808.0" x2="228.67" y2="810.8" stroke="#333" stroke-width="1.0"/>
<text x="233.57" y="819.0" font-size="11.7" text-anchor="end" fill="#1a1a1a" transform="rotate(-45 233.57 819.0)">HOXA10</text>
<line x1="242.9" y1="808.0" x2="242.9" y2="810.8" stroke="#333" stroke-width="1.0"/>
<text x="247.8" y="819.0" font-size="11.7" text-anchor="end" fill="#1a1a1a" transform="rotate(-45 247.8 819.0)">YBX3</text>
<line x1="257.13" y1="808.0" x2="257.13" y2="810.8" stroke="#333" stroke-width="1.0"/>
<text x="262.03" y="819.0" font-size="11.7" text-anchor="end" fill="#1a1a1a" transform="rotate(-45 262.03 819.0)">SIX1</text>
<line x1="271.36" y1="808.0" x2="271.36" y2="810.8" stroke="#333" stroke-width="1.0"/>
<text x="276.26" y="819.0" font-size="11.7" text-anchor="end" fill="#1a1a1a" transform="rotate(-45 276.26 819.0)">WT1</text>
<line x1="285.6" y1="808.0" x2="285.6" y2="810.8" stroke="#333" stroke-width="1.0"/>
<text x="290.5" y="819.0" font-size="11.7" text-anchor="end" fill="#1a1a1a" transform="rotate(-45 290.5 819.0)">HMGB2</text>
<line x1="299.83" y1="808.0" x2="299.83" y2="810.8" stroke="#333" stroke-width="1.0"/>
<text x="304.73" y="819.0" font-size="11.7" text-anchor="end" fill="#1a1a1a" transform="rotate(-45 304.73 819.0)">TSHZ1</text>
<line x1="314.06" y1="808.0" x2="314.06" y2="810.8" stroke="#333" stroke-width="1.0"/>
<text x="318.96" y="819.0" font-size="11.7" text-anchor="end" fill="#1a1a1a" transform="rotate(-45 318.96 819.0)">MAZ</text>
<line x1="328.3" y1="808.0" x2="328.3" y2="810.8" stroke="#333" stroke-width="1.0"/>
<text x="333.2" y="819.0" font-size="11.7" text-anchor="end" fill="#1a1a1a" transform="rotate(-45 333.2 819.0)">SALL1</text>
<line x1="342.53" y1="808.0" x2="342.53" y2="810.8" stroke="#333" stroke-width="1.0"/>
<text x="347.43" y="819.0" font-size="11.7" text-anchor="end" fill="#1a1a1a" transform="rotate(-45 347.43 819.0)">LEF1</text>
<line x1="356.76" y1="808.0" x2="356.76" y2="810.8" stroke="#333" stroke-width="1.0"/>
<text x="361.66" y="819.0" font-size="11.7" text-anchor="end" fill="#1a1a1a" transform="rotate(-45 361.66 819.0)">SOX11</text>
<text x="222.1" y="863.7" font-size="11.5" text-anchor="middle" fill="#1a1a1a">Transcription factors (TFs)</text>
<text x="39.1" y="724.2" font-size="11.6" text-anchor="middle" fill="#1a1a1a" transform="rotate(-90 39.1 724.2)">Normalized enrichment score</text>
<text x="51.3" y="724.2" font-size="11.6" text-anchor="middle" fill="#1a1a1a" transform="rotate(-90 51.3 724.2)">for TF target genes</text>
<defs><linearGradient id="gPv" x1="0" y1="1" x2="0" y2="0">
<stop offset="0" stop-color="#df561d"/><stop offset="0.3" stop-color="#ee7a28"/><stop offset="0.55" stop-color="#f6963a"/><stop offset="0.8" stop-color="#f9c28e"/><stop offset="1" stop-color="#fbeadb"/>
</linearGradient></defs>
<text x="382.3" y="684.1" font-size="11.6" fill="#1a1a1a"><tspan font-style="italic">p</tspan> value</text>
<rect x="383.00" y="692.10" width="15.90" height="81.60" fill="url(#gPv)"/>
<line x1="383.0" y1="707.4" x2="385.6" y2="707.4" stroke="#fff" stroke-width="0.8"/>
<line x1="396.3" y1="707.4" x2="398.9" y2="707.4" stroke="#fff" stroke-width="0.8"/>
<text x="404.0" y="710.4" font-size="8.8" text-anchor="start" fill="#1a1a1a">0.04</text>
<line x1="383.0" y1="723.8" x2="385.6" y2="723.8" stroke="#fff" stroke-width="0.8"/>
<line x1="396.3" y1="723.8" x2="398.9" y2="723.8" stroke="#fff" stroke-width="0.8"/>
<text x="404.0" y="726.8" font-size="8.8" text-anchor="start" fill="#1a1a1a">0.03</text>
<line x1="383.0" y1="740.3" x2="385.6" y2="740.3" stroke="#fff" stroke-width="0.8"/>
<line x1="396.3" y1="740.3" x2="398.9" y2="740.3" stroke="#fff" stroke-width="0.8"/>
<text x="404.0" y="743.3" font-size="8.8" text-anchor="start" fill="#1a1a1a">0.02</text>
<line x1="383.0" y1="757.2" x2="385.6" y2="757.2" stroke="#fff" stroke-width="0.8"/>
<line x1="396.3" y1="757.2" x2="398.9" y2="757.2" stroke="#fff" stroke-width="0.8"/>
<text x="404.0" y="760.2" font-size="8.8" text-anchor="start" fill="#1a1a1a">0.01</text>
</svg>
</body></html>
